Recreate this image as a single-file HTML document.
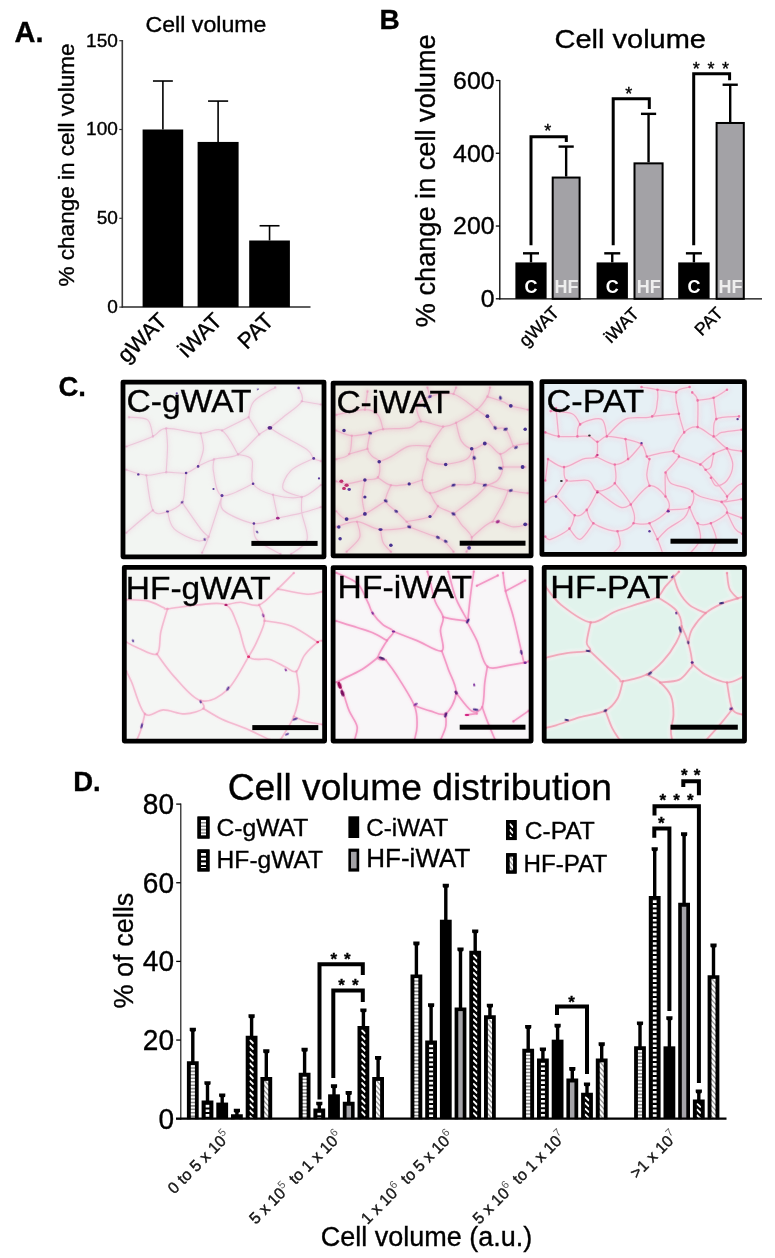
<!DOCTYPE html>
<html lang="en"><head><meta charset="utf-8"><title>Adipose cell volume figure</title>
<style>html,body{margin:0;padding:0;background:#fff}body{width:775px;height:1258px;overflow:hidden}svg{display:block}text{font-family:'Liberation Sans', sans-serif;stroke:#000;stroke-width:0.35px}text.w{stroke:none}</style>
</head><body>
<svg width="775" height="1258" viewBox="0 0 775 1258">
<rect width="775" height="1258" fill="#fff"/>
<g id="panelA">
<text x="14.6" y="41.6" font-size="29" font-weight="bold" >A.</text>
<text x="145.5" y="31.8" font-size="21.9" textLength="121" lengthAdjust="spacingAndGlyphs" >Cell volume</text>
<line x1="122.3" y1="40.1" x2="122.3" y2="307.70000000000005" stroke="#3c3c3c" stroke-width="1.6" stroke-linecap="butt"/>
<line x1="121.7" y1="307.1" x2="310.5" y2="307.1" stroke="#2a2a2a" stroke-width="1.5" stroke-linecap="butt"/>
<line x1="119.3" y1="307.1" x2="122.3" y2="307.1" stroke="#333" stroke-width="1.2" stroke-linecap="butt"/>
<text x="117.9" y="313.0" font-size="17.8" text-anchor="end" textLength="10.6" lengthAdjust="spacingAndGlyphs" >0</text>
<line x1="119.3" y1="218.3" x2="122.3" y2="218.3" stroke="#333" stroke-width="1.2" stroke-linecap="butt"/>
<text x="117.9" y="224.20000000000002" font-size="17.8" text-anchor="end" textLength="21.2" lengthAdjust="spacingAndGlyphs" >50</text>
<line x1="119.3" y1="129.5" x2="122.3" y2="129.5" stroke="#333" stroke-width="1.2" stroke-linecap="butt"/>
<text x="117.9" y="135.4" font-size="17.8" text-anchor="end" textLength="31.799999999999997" lengthAdjust="spacingAndGlyphs" >100</text>
<line x1="119.3" y1="40.69999999999999" x2="122.3" y2="40.69999999999999" stroke="#333" stroke-width="1.2" stroke-linecap="butt"/>
<text x="117.9" y="46.59999999999999" font-size="17.8" text-anchor="end" textLength="31.799999999999997" lengthAdjust="spacingAndGlyphs" >150</text>
<text x="74" y="286.5" font-size="22.5" textLength="243" lengthAdjust="spacingAndGlyphs" transform="rotate(-90 74 286.5)" >% change in cell volume</text>
<rect x="142.60" y="129.50" width="40.60" height="177.60" fill="#000" />
<line x1="162.89999999999998" y1="81.0152" x2="162.89999999999998" y2="129.5" stroke="#000" stroke-width="1.6" stroke-linecap="butt"/>
<line x1="152.95299999999997" y1="81.0152" x2="172.84699999999998" y2="81.0152" stroke="#000" stroke-width="1.6" stroke-linecap="butt"/>
<rect x="197.60" y="141.93" width="41.00" height="165.17" fill="#000" />
<line x1="218.1" y1="101.084" x2="218.1" y2="141.932" stroke="#000" stroke-width="1.6" stroke-linecap="butt"/>
<line x1="208.055" y1="101.084" x2="228.14499999999998" y2="101.084" stroke="#000" stroke-width="1.6" stroke-linecap="butt"/>
<rect x="249.20" y="240.50" width="40.70" height="66.60" fill="#000" />
<line x1="269.54999999999995" y1="225.75920000000002" x2="269.54999999999995" y2="240.5" stroke="#000" stroke-width="1.6" stroke-linecap="butt"/>
<line x1="259.57849999999996" y1="225.75920000000002" x2="279.52149999999995" y2="225.75920000000002" stroke="#000" stroke-width="1.6" stroke-linecap="butt"/>
<text x="168.5" y="322" font-size="22.3" text-anchor="end" transform="rotate(-45 168.5 322)" >gWAT</text>
<text x="223.5" y="322" font-size="22.3" text-anchor="end" transform="rotate(-45 223.5 322)" >iWAT</text>
<text x="275" y="322" font-size="22.3" text-anchor="end" transform="rotate(-45 275 322)" >PAT</text>
</g>
<g id="panelB">
<text x="379.6" y="28.9" font-size="28" font-weight="bold" >B</text>
<text x="554.5" y="48.1" font-size="25.9" textLength="151.5" lengthAdjust="spacingAndGlyphs" >Cell volume</text>
<line x1="499.8" y1="79.9" x2="499.8" y2="299.40000000000003" stroke="#000" stroke-width="1.3" stroke-linecap="butt"/>
<line x1="499.2" y1="298.8" x2="762" y2="298.8" stroke="#000" stroke-width="1.3" stroke-linecap="butt"/>
<line x1="495.8" y1="298.8" x2="499.8" y2="298.8" stroke="#000" stroke-width="1.3" stroke-linecap="butt"/>
<text x="494.5" y="307.2" font-size="23.3" text-anchor="end" textLength="13.8" lengthAdjust="spacingAndGlyphs" >0</text>
<line x1="495.8" y1="226.03333333333336" x2="499.8" y2="226.03333333333336" stroke="#000" stroke-width="1.3" stroke-linecap="butt"/>
<text x="494.5" y="234.43333333333337" font-size="23.3" text-anchor="end" textLength="41.400000000000006" lengthAdjust="spacingAndGlyphs" >200</text>
<line x1="495.8" y1="153.26666666666668" x2="499.8" y2="153.26666666666668" stroke="#000" stroke-width="1.3" stroke-linecap="butt"/>
<text x="494.5" y="161.66666666666669" font-size="23.3" text-anchor="end" textLength="41.400000000000006" lengthAdjust="spacingAndGlyphs" >400</text>
<line x1="495.8" y1="80.5" x2="499.8" y2="80.5" stroke="#000" stroke-width="1.3" stroke-linecap="butt"/>
<text x="494.5" y="88.9" font-size="23.3" text-anchor="end" textLength="41.400000000000006" lengthAdjust="spacingAndGlyphs" >600</text>
<text x="435.5" y="327.2" font-size="27.2" textLength="292.8" lengthAdjust="spacingAndGlyphs" transform="rotate(-90 435.5 327.2)" >% change in cell volume</text>
<rect x="515.40" y="262.42" width="31.20" height="36.38" fill="#000" />
<line x1="531.0" y1="253.32083333333335" x2="531.0" y2="262.4166666666667" stroke="#000" stroke-width="2.4" stroke-linecap="butt"/>
<line x1="523.0" y1="253.32083333333335" x2="539.0" y2="253.32083333333335" stroke="#000" stroke-width="2.4" stroke-linecap="butt"/>
<rect x="552.70" y="177.55" width="26.90" height="121.25" fill="#a3a2a6" stroke="#000" stroke-width="2" />
<line x1="566.1500000000001" y1="146.59" x2="566.1500000000001" y2="176.55200000000002" stroke="#000" stroke-width="2.4" stroke-linecap="butt"/>
<line x1="558.5500000000001" y1="146.59" x2="573.7500000000001" y2="146.59" stroke="#000" stroke-width="2.4" stroke-linecap="butt"/>
<text x="531.0" y="293.4" font-size="18" font-weight="bold" fill="#fff" text-anchor="middle" class="w">C</text>
<text x="566.45" y="293.4" font-size="18" font-weight="bold" fill="#eee" text-anchor="middle" class="w">HF</text>
<rect x="596.60" y="262.42" width="31.30" height="36.38" fill="#000" />
<line x1="612.25" y1="253.32083333333335" x2="612.25" y2="262.4166666666667" stroke="#000" stroke-width="2.4" stroke-linecap="butt"/>
<line x1="604.25" y1="253.32083333333335" x2="620.25" y2="253.32083333333335" stroke="#000" stroke-width="2.4" stroke-linecap="butt"/>
<rect x="634.50" y="163.36" width="28.10" height="135.44" fill="#a3a2a6" stroke="#000" stroke-width="2" />
<line x1="648.55" y1="113.845" x2="648.55" y2="162.3625" stroke="#000" stroke-width="2.4" stroke-linecap="butt"/>
<line x1="640.9499999999999" y1="113.845" x2="656.15" y2="113.845" stroke="#000" stroke-width="2.4" stroke-linecap="butt"/>
<text x="612.25" y="293.4" font-size="18" font-weight="bold" fill="#fff" text-anchor="middle" class="w">C</text>
<text x="648.8499999999999" y="293.4" font-size="18" font-weight="bold" fill="#eee" text-anchor="middle" class="w">HF</text>
<rect x="678.20" y="262.42" width="31.40" height="36.38" fill="#000" />
<line x1="693.9000000000001" y1="253.32083333333335" x2="693.9000000000001" y2="262.4166666666667" stroke="#000" stroke-width="2.4" stroke-linecap="butt"/>
<line x1="685.9000000000001" y1="253.32083333333335" x2="701.9000000000001" y2="253.32083333333335" stroke="#000" stroke-width="2.4" stroke-linecap="butt"/>
<rect x="716.60" y="122.98" width="27.20" height="175.82" fill="#a3a2a6" stroke="#000" stroke-width="2" />
<line x1="730.2" y1="84.73833333333334" x2="730.2" y2="121.977" stroke="#000" stroke-width="2.4" stroke-linecap="butt"/>
<line x1="722.6" y1="84.73833333333334" x2="737.8000000000001" y2="84.73833333333334" stroke="#000" stroke-width="2.4" stroke-linecap="butt"/>
<text x="693.9000000000001" y="293.4" font-size="18" font-weight="bold" fill="#fff" text-anchor="middle" class="w">C</text>
<text x="730.5" y="293.4" font-size="18" font-weight="bold" fill="#eee" text-anchor="middle" class="w">HF</text>
<path d="M531 245.2V136.70000000000002H566.3V142" fill="none" stroke="#000" stroke-width="3.0" />
<path d="M613.2 245.2V98.7H649.3V109" fill="none" stroke="#000" stroke-width="3.0" />
<path d="M693.7 245.2V73.7H729.6V80.3" fill="none" stroke="#000" stroke-width="3.0" />
<text x="547.7" y="137" font-size="18" text-anchor="middle" >*</text>
<text x="628.7" y="100" font-size="18" text-anchor="middle" >*</text>
<text x="696.3" y="75" font-size="18" text-anchor="middle" >*</text>
<text x="711" y="75" font-size="18" text-anchor="middle" >*</text>
<text x="725.5" y="75" font-size="18" text-anchor="middle" >*</text>
<text x="560.3" y="313.7" font-size="18" text-anchor="end" transform="rotate(-45 560.3 313.7)" >gWAT</text>
<text x="640" y="315" font-size="17.6" text-anchor="end" transform="rotate(-45 640 315)" >iWAT</text>
<text x="724" y="314.5" font-size="17.6" text-anchor="end" transform="rotate(-45 724 314.5)" >PAT</text>
</g>
<g id="panelC">
<text x="58.5" y="396.4" font-size="27.5" font-weight="bold" >C.</text>
<defs>
<filter id="soft" filterUnits="userSpaceOnUse" x="100" y="360" width="670" height="400"><feGaussianBlur stdDeviation="0.5"/></filter>
<filter id="soft4" filterUnits="userSpaceOnUse" x="100" y="360" width="670" height="400"><feGaussianBlur stdDeviation="2.2"/></filter>
<filter id="soft3" filterUnits="userSpaceOnUse" x="100" y="360" width="670" height="400"><feGaussianBlur stdDeviation="1.0"/></filter>
<filter id="soft2" x="-50%" y="-50%" width="200%" height="200%"><feGaussianBlur stdDeviation="0.5"/></filter>
<clipPath id="clip_p1"><rect x="124.9" y="384.0" width="197.2" height="170.9"/></clipPath>
<clipPath id="clip_p2"><rect x="335.0" y="385.0" width="194.2" height="168.9"/></clipPath>
<clipPath id="clip_p3"><rect x="543.8" y="383.5" width="198.8" height="169.0"/></clipPath>
<clipPath id="clip_p4"><rect x="126.2" y="569.2" width="196.5" height="170.0"/></clipPath>
<clipPath id="clip_p5"><rect x="335.0" y="569.5" width="194.2" height="169.7"/></clipPath>
<clipPath id="clip_p6"><rect x="546.1" y="569.2" width="196.5" height="170.0"/></clipPath>
</defs>
<g id="p1">
<rect x="123.0" y="382.1" width="201.0" height="174.7" fill="#f2f5f2"/>
<g clip-path="url(#clip_p1)">
<g fill="none" stroke="#e8a0c6" stroke-linecap="round" stroke-linejoin="round">
<defs><path id="m_p1_0" d="M126.3 469.8C129.6 470.7 139.7 474.8 146.3 475.2C153.0 475.6 159.6 472.6 166.2 472.2C172.8 471.8 180.8 474.0 186.1 473C191.4 472.0 193.4 468.7 198.1 466.4C202.8 464.1 207.3 461.2 214 459.2C220.7 457.2 230.5 458.5 238 454.4C245.5 450.3 253.9 438.9 259.2 434.5C264.5 430.1 265.9 430.7 269.9 427.8C273.9 424.9 277.8 421.6 283.1 417.2C288.4 412.8 299.2 406.3 301.8 401.3C304.4 396.3 299.1 389.7 298.6 387.4M269.9 427.8C271.9 429.1 275.6 431.7 281.8 435.3C288.0 438.9 301.8 445.8 307.1 449.6C312.4 453.5 311.4 456.5 313.7 458.4C316.0 460.3 319.7 460.7 320.9 461.1M238 454.4C240.3 455.3 249.3 454.8 251.8 459.7C254.3 464.6 249.6 477.8 253.1 483.7C256.6 489.6 264.9 492.6 273 494.8C281.1 497.0 293.8 498.6 301.8 497C309.8 495.4 317.7 487.0 320.9 485M253.1 483.7C247.9 485.7 228.6 497.6 222 495.6C215.4 493.6 214.8 477.8 213.5 471.7C212.2 465.6 213.9 461.3 214 459.2M222 495.6C222.2 498.0 218.0 505.6 223.3 510.2C228.6 514.9 244.8 522.2 253.9 523.5C263.0 524.8 269.8 520.0 277.8 518.2C285.8 516.4 294.6 514.8 301.8 512.9C309.0 511.0 317.7 508.1 320.9 507.1M222 495.6C219.8 502.5 212.0 527.3 208.7 536.8C205.4 546.3 203.2 550.1 202.1 552.8M186.1 473C185.9 475.2 185.5 481.4 184.8 486.3C184.1 491.2 185.0 498.1 182.1 502.3C179.2 506.5 172.4 510.3 167.5 511.6C162.6 512.9 156.4 516.3 152.9 510.2C149.4 504.1 147.4 481.0 146.3 475.2M182.1 502.3C185.2 506.7 196.3 523.1 200.7 528.9C205.1 534.6 207.4 535.5 208.7 536.8M152.9 510.2C150.2 512.4 141.3 519.7 136.9 523.5C132.5 527.3 128.1 531.2 126.3 532.8M167.5 511.6C168.6 514.5 169.1 524.0 174.2 528.9C179.3 533.8 192.3 539.5 198.1 540.8C203.8 542.1 206.9 537.5 208.7 536.8M126.3 446.5C130.7 444.8 146.2 439.4 152.9 436.4C159.6 433.4 158.2 428.9 166.2 428.4C174.2 427.9 191.4 432.8 200.7 433.2C210.0 433.6 215.8 427.0 222 430.5C228.2 434.0 235.3 450.4 238 454.4M152.9 436.4C152.0 433.6 151.6 423.1 147.6 419.9C143.6 416.7 132.1 417.6 129 417.2M248.6 417.2L259.2 434.5M248.6 417.2C249.5 414.6 249.5 406.3 253.9 401.3C258.3 396.3 271.6 389.7 275.2 387.4M248.6 417.2L222 430.5M301.8 401.3L320.9 404.5M273 494.8L277.8 518.2M301.8 497C301.8 499.6 300.9 505.8 301.8 512.9C302.7 520.0 308.9 532.6 307.1 539.5C305.3 546.4 293.8 551.7 291.1 554.1M253.9 523.5C254.4 526.2 252.2 534.4 256.6 539.5C261.0 544.6 276.5 551.7 280.5 554.1M313.7 458.4C309.9 460.4 296.2 465.3 291.1 470.4C286.0 475.5 281.3 484.6 283.1 489C284.9 493.4 298.7 495.7 301.8 497M166.2 428.4C166.4 431.4 167.5 439.2 167.5 446.5C167.5 453.8 166.4 467.9 166.2 472.2M200.7 433.2C201.1 435.9 203.8 443.6 203.4 449.1C203.0 454.6 199.0 463.5 198.1 466.4"/></defs>
<use href="#m_p1_0" stroke-width="7" opacity="0.08" filter="url(#soft4)"/>
<use href="#m_p1_0" stroke-width="2.42" opacity="0.13" filter="url(#soft3)"/>
<use href="#m_p1_0" stroke-width="1.15" opacity="0.45" filter="url(#soft)"/>
</g>
<path d="M125.0 469.8a1.3 1.3 0 1 0 2.6 0a1.3 1.3 0 1 0 -2.6 0M297.3 387.4a1.3 1.3 0 1 0 2.6 0a1.3 1.3 0 1 0 -2.6 0M268.6 427.8a1.3 1.3 0 1 0 2.6 0a1.3 1.3 0 1 0 -2.6 0M319.6 461.1a1.3 1.3 0 1 0 2.6 0a1.3 1.3 0 1 0 -2.6 0M236.7 454.4a1.3 1.3 0 1 0 2.6 0a1.3 1.3 0 1 0 -2.6 0M319.6 485.0a1.3 1.3 0 1 0 2.6 0a1.3 1.3 0 1 0 -2.6 0M251.8 483.7a1.3 1.3 0 1 0 2.6 0a1.3 1.3 0 1 0 -2.6 0M212.7 459.2a1.3 1.3 0 1 0 2.6 0a1.3 1.3 0 1 0 -2.6 0M220.7 495.6a1.3 1.3 0 1 0 2.6 0a1.3 1.3 0 1 0 -2.6 0M319.6 507.1a1.3 1.3 0 1 0 2.6 0a1.3 1.3 0 1 0 -2.6 0M200.8 552.8a1.3 1.3 0 1 0 2.6 0a1.3 1.3 0 1 0 -2.6 0M184.8 473.0a1.3 1.3 0 1 0 2.6 0a1.3 1.3 0 1 0 -2.6 0M145.0 475.2a1.3 1.3 0 1 0 2.6 0a1.3 1.3 0 1 0 -2.6 0M180.8 502.3a1.3 1.3 0 1 0 2.6 0a1.3 1.3 0 1 0 -2.6 0M207.4 536.8a1.3 1.3 0 1 0 2.6 0a1.3 1.3 0 1 0 -2.6 0M151.6 510.2a1.3 1.3 0 1 0 2.6 0a1.3 1.3 0 1 0 -2.6 0M125.0 532.8a1.3 1.3 0 1 0 2.6 0a1.3 1.3 0 1 0 -2.6 0M166.2 511.6a1.3 1.3 0 1 0 2.6 0a1.3 1.3 0 1 0 -2.6 0M125.0 446.5a1.3 1.3 0 1 0 2.6 0a1.3 1.3 0 1 0 -2.6 0M151.6 436.4a1.3 1.3 0 1 0 2.6 0a1.3 1.3 0 1 0 -2.6 0M127.7 417.2a1.3 1.3 0 1 0 2.6 0a1.3 1.3 0 1 0 -2.6 0M247.3 417.2a1.3 1.3 0 1 0 2.6 0a1.3 1.3 0 1 0 -2.6 0M257.9 434.5a1.3 1.3 0 1 0 2.6 0a1.3 1.3 0 1 0 -2.6 0M273.9 387.4a1.3 1.3 0 1 0 2.6 0a1.3 1.3 0 1 0 -2.6 0M220.7 430.5a1.3 1.3 0 1 0 2.6 0a1.3 1.3 0 1 0 -2.6 0M300.5 401.3a1.3 1.3 0 1 0 2.6 0a1.3 1.3 0 1 0 -2.6 0M319.6 404.5a1.3 1.3 0 1 0 2.6 0a1.3 1.3 0 1 0 -2.6 0M271.7 494.8a1.3 1.3 0 1 0 2.6 0a1.3 1.3 0 1 0 -2.6 0M276.5 518.2a1.3 1.3 0 1 0 2.6 0a1.3 1.3 0 1 0 -2.6 0M300.5 497.0a1.3 1.3 0 1 0 2.6 0a1.3 1.3 0 1 0 -2.6 0M289.8 554.1a1.3 1.3 0 1 0 2.6 0a1.3 1.3 0 1 0 -2.6 0M252.6 523.5a1.3 1.3 0 1 0 2.6 0a1.3 1.3 0 1 0 -2.6 0M279.2 554.1a1.3 1.3 0 1 0 2.6 0a1.3 1.3 0 1 0 -2.6 0M312.4 458.4a1.3 1.3 0 1 0 2.6 0a1.3 1.3 0 1 0 -2.6 0M164.9 428.4a1.3 1.3 0 1 0 2.6 0a1.3 1.3 0 1 0 -2.6 0M164.9 472.2a1.3 1.3 0 1 0 2.6 0a1.3 1.3 0 1 0 -2.6 0M199.4 433.2a1.3 1.3 0 1 0 2.6 0a1.3 1.3 0 1 0 -2.6 0M196.8 466.4a1.3 1.3 0 1 0 2.6 0a1.3 1.3 0 1 0 -2.6 0" fill="#e090c0" opacity="0.35" filter="url(#soft)"/>
<ellipse cx="269.9" cy="427.8" rx="2.4" ry="1.9" transform="rotate(0 269.9 427.8)" fill="#5a2a8a" filter="url(#soft2)"/>
<ellipse cx="198.1" cy="466.4" rx="1.3" ry="1.3" transform="rotate(0 198.1 466.4)" fill="#5b3a9b" filter="url(#soft2)"/>
<ellipse cx="186.1" cy="473.0" rx="1.3" ry="1.3" transform="rotate(0 186.1 473.0)" fill="#5b3a9b" filter="url(#soft2)"/>
<ellipse cx="253.1" cy="483.7" rx="1.3" ry="1.3" transform="rotate(0 253.1 483.7)" fill="#5b3a9b" filter="url(#soft2)"/>
<ellipse cx="222.0" cy="495.6" rx="1.5" ry="1.5" transform="rotate(0 222.0 495.6)" fill="#5b3a9b" filter="url(#soft2)"/>
<ellipse cx="182.1" cy="502.3" rx="1.5" ry="1.1" transform="rotate(-40 182.1 502.3)" fill="#5b3a9b" filter="url(#soft2)"/>
<ellipse cx="167.5" cy="511.6" rx="1.6" ry="1.0" transform="rotate(10 167.5 511.6)" fill="#5b3a9b" filter="url(#soft2)"/>
<ellipse cx="277.8" cy="518.2" rx="1.8" ry="1.4" transform="rotate(0 277.8 518.2)" fill="#a02a8a" filter="url(#soft2)"/>
<ellipse cx="313.7" cy="458.4" rx="1.4" ry="1.4" transform="rotate(0 313.7 458.4)" fill="#5b3a9b" filter="url(#soft2)"/>
<ellipse cx="204.7" cy="539.5" rx="1.5" ry="1.0" transform="rotate(60 204.7 539.5)" fill="#5b3a9b" filter="url(#soft2)"/>
<ellipse cx="253.9" cy="523.5" rx="1.3" ry="1.3" transform="rotate(0 253.9 523.5)" fill="#5b3a9b" filter="url(#soft2)"/>
<ellipse cx="257.1" cy="532.0" rx="1.5" ry="1.0" transform="rotate(50 257.1 532.0)" fill="#5b3a9b" filter="url(#soft2)"/>
<ellipse cx="138.3" cy="474.4" rx="1.2" ry="1.2" transform="rotate(0 138.3 474.4)" fill="#5b3a9b" filter="url(#soft2)"/>
<ellipse cx="176.8" cy="393.3" rx="1.1" ry="1.1" transform="rotate(0 176.8 393.3)" fill="#5b3a9b" filter="url(#soft2)"/>
<ellipse cx="298.6" cy="388.0" rx="1.2" ry="1.2" transform="rotate(0 298.6 388.0)" fill="#5b3a9b" filter="url(#soft2)"/>
<ellipse cx="213.5" cy="489.0" rx="1.1" ry="1.1" transform="rotate(0 213.5 489.0)" fill="#5b3a9b" filter="url(#soft2)"/>
<ellipse cx="319.0" cy="478.4" rx="1.1" ry="1.1" transform="rotate(0 319.0 478.4)" fill="#5b3a9b" filter="url(#soft2)"/>
<ellipse cx="257.9" cy="389.3" rx="1.2" ry="0.8" transform="rotate(-40 257.9 389.3)" fill="#5b3a9b" filter="url(#soft2)"/>
</g>
<rect x="123.00" y="382.10" width="201.00" height="174.70" fill="none" stroke="#000" stroke-width="4.8" stroke-linejoin="round"/>
<rect x="251.4" y="540.9" width="66.2" height="5" fill="#000"/>
<text x="126.6" y="412.3" font-size="32" textLength="125" lengthAdjust="spacingAndGlyphs">C-gWAT</text>
</g>
<g id="p2">
<rect x="333.1" y="383.1" width="198.0" height="172.7" fill="#eeede4"/>
<g clip-path="url(#clip_p2)">
<g fill="none" stroke="#ee9cc0" stroke-linecap="round" stroke-linejoin="round">
<defs><path id="m_p2_0" d="M336.2 430.5C338.8 431.4 346.1 435.3 351.8 435.7C357.5 436.1 364.9 434.2 370.1 433.1C375.3 432.0 376.6 430.1 383.1 429.2C389.6 428.3 402.9 429.2 409.2 427.9C415.5 426.6 415.2 421.6 420.9 421.4C426.5 421.2 437.2 426.4 443.1 426.6C449.0 426.8 450.5 425.5 456.1 422.7C461.7 419.9 471.7 414.0 476.9 409.7C482.1 405.4 485.2 400.3 487.4 396.6C489.6 392.9 489.6 389.0 490 387.5M370.1 433.1C369.7 435.7 367.1 444.9 367.5 448.8C367.9 452.7 370.8 454.4 372.7 456.6C374.6 458.8 378.3 458.3 379.2 461.8C380.1 465.3 380.3 474.4 377.9 477.4C375.5 480.4 370.1 478.9 364.9 480C359.7 481.1 351.4 483.7 346.6 483.9C341.8 484.1 337.9 481.7 336.2 481.3M443.1 426.6C440.9 429.9 432.6 440.8 430 446.2C427.4 451.6 425.2 456.2 427.4 459.2C429.6 462.2 436.6 464.4 443.1 464.4C449.6 464.4 461.5 461.8 466.5 459.2C471.5 456.6 471.9 448.8 473 448.8C474.1 448.8 473.0 457.5 473 459.2M456.1 422.7C457.0 425.7 458.5 436.5 461.3 440.9C464.1 445.2 468.6 448.4 473 448.8C477.4 449.2 482.8 442.6 487.4 443.5C492.0 444.4 496.1 453.6 500.4 454C504.7 454.4 508.8 447.9 513.4 446.2C518.0 444.4 525.4 443.9 527.8 443.5M473 459.2C473.2 463.1 477.6 478.3 474.3 482.6C471.1 486.9 460.9 483.4 453.5 485.2C446.1 486.9 435.2 494.0 430 493.1C424.8 492.2 422.6 485.6 422.2 480C421.8 474.4 426.5 462.7 427.4 459.2M474.3 482.6C476.5 483.0 481.8 483.9 487.4 485.2C493.0 486.5 501.5 489.2 508.2 490.5C514.9 491.8 524.5 492.7 527.8 493.1M430 493.1C431.3 495.3 434.0 502.6 437.9 506.1C441.8 509.6 449.6 510.9 453.5 513.9C457.4 516.9 458.3 520.4 461.3 524.3C464.3 528.2 470.8 532.8 471.7 537.4C472.6 542.0 467.4 549.3 466.5 551.7M453.5 513.9C457.4 510.9 471.2 500.5 476.9 495.7C482.5 490.9 485.6 486.9 487.4 485.2M379.2 461.8C381.1 460.9 385.9 459.2 390.9 456.6C395.9 454.0 402.7 447.9 409.2 446.2C415.7 444.5 426.5 446.2 430 446.2M377.9 477.4C380.1 478.7 385.7 484.1 390.9 485.2C396.1 486.3 404.0 484.8 409.2 483.9C414.4 483.0 420.0 480.6 422.2 480M390.9 485.2C390.0 487.8 384.8 496.5 385.7 500.9C386.6 505.2 392.7 507.8 396.2 511.3C399.7 514.8 404.4 519.1 406.6 521.7C408.8 524.3 413.6 525.6 409.2 526.9C404.8 528.2 389.2 530.5 380.5 529.6C371.8 528.7 364.5 522.2 357.1 521.7C349.7 521.2 339.7 526.0 336.2 526.9M385.7 500.9C382.2 503.1 371.4 510.9 364.9 513.9C358.4 516.9 351.4 519.5 346.6 519.1C341.8 518.7 337.9 512.6 336.2 511.3M364.9 480C364.5 483.1 362.3 492.7 362.3 498.3C362.3 503.9 364.5 511.3 364.9 513.9M409.2 526.9C412.7 528.2 425.2 533.0 430 534.8C434.8 536.5 435.3 536.1 437.9 537.4C440.5 538.7 443.1 540.2 445.7 542.6C448.3 545.0 452.2 550.2 453.5 551.7M471.7 537.4C475.2 534.8 485.7 523.5 492.6 521.7C499.6 520.0 507.5 526.5 513.4 526.9C519.3 527.3 525.4 524.7 527.8 524.3M492.6 521.7C494.3 518.7 500.4 508.7 503 503.5C505.6 498.3 507.3 492.7 508.2 490.5M406.6 521.7C410.5 520.8 424.8 519.1 430 516.5C435.2 513.9 436.6 507.8 437.9 506.1M487.4 396.6C490.0 397.5 499.1 400.3 503 401.8C506.9 403.3 506.7 404.5 510.8 405.8C514.9 407.1 525.0 409.1 527.8 409.7M476.9 409.7C478.6 411.0 484.3 414.5 487.4 417.5C490.4 420.5 492.2 425.9 495.2 427.9C498.2 429.8 502.6 426.1 505.6 429.2C508.6 432.2 512.1 443.4 513.4 446.2M500.4 454C500.8 456.2 503.4 462.7 503 467C502.6 471.3 500.4 477.0 497.8 480C495.2 483.0 489.1 484.3 487.4 485.2M503 467L525.2 467M357.1 521.7C357.5 524.3 361.4 532.4 359.7 537.4C357.9 542.4 348.8 549.3 346.6 551.7M380.5 529.6C380.9 531.8 381.4 538.9 383.1 542.6C384.8 546.3 389.6 550.2 390.9 551.7M351.8 435.7C351.4 438.8 351.8 450.1 349.2 454C346.6 457.9 338.4 458.3 336.2 459.2M349.2 454L367.5 448.8M420.9 421.4C420.2 419.0 415.5 411.2 417 407.1C418.5 403.0 423.9 398.8 430 396.6C436.1 394.4 445.7 391.8 453.5 394C461.3 396.2 473.0 407.1 476.9 409.7M383.1 429.2C382.2 426.8 380.9 418.1 377.9 414.9C374.9 411.6 371.8 409.7 364.9 409.7C357.9 409.7 341.0 414.0 336.2 414.9M453.5 394L456.1 387.5M364.9 409.7L367.5 391.4M430 396.6L427.4 387.5"/></defs>
<use href="#m_p2_0" stroke-width="7" opacity="0.16" filter="url(#soft4)"/>
<use href="#m_p2_0" stroke-width="2.52" opacity="0.15" filter="url(#soft3)"/>
<use href="#m_p2_0" stroke-width="1.20" opacity="0.55" filter="url(#soft)"/>
</g>
<path d="M334.9 430.5a1.3 1.3 0 1 0 2.6 0a1.3 1.3 0 1 0 -2.6 0M488.7 387.5a1.3 1.3 0 1 0 2.6 0a1.3 1.3 0 1 0 -2.6 0M368.8 433.1a1.3 1.3 0 1 0 2.6 0a1.3 1.3 0 1 0 -2.6 0M334.9 481.3a1.3 1.3 0 1 0 2.6 0a1.3 1.3 0 1 0 -2.6 0M441.8 426.6a1.3 1.3 0 1 0 2.6 0a1.3 1.3 0 1 0 -2.6 0M471.7 459.2a1.3 1.3 0 1 0 2.6 0a1.3 1.3 0 1 0 -2.6 0M454.8 422.7a1.3 1.3 0 1 0 2.6 0a1.3 1.3 0 1 0 -2.6 0M526.5 443.5a1.3 1.3 0 1 0 2.6 0a1.3 1.3 0 1 0 -2.6 0M426.1 459.2a1.3 1.3 0 1 0 2.6 0a1.3 1.3 0 1 0 -2.6 0M473.0 482.6a1.3 1.3 0 1 0 2.6 0a1.3 1.3 0 1 0 -2.6 0M526.5 493.1a1.3 1.3 0 1 0 2.6 0a1.3 1.3 0 1 0 -2.6 0M428.7 493.1a1.3 1.3 0 1 0 2.6 0a1.3 1.3 0 1 0 -2.6 0M465.2 551.7a1.3 1.3 0 1 0 2.6 0a1.3 1.3 0 1 0 -2.6 0M452.2 513.9a1.3 1.3 0 1 0 2.6 0a1.3 1.3 0 1 0 -2.6 0M486.1 485.2a1.3 1.3 0 1 0 2.6 0a1.3 1.3 0 1 0 -2.6 0M377.9 461.8a1.3 1.3 0 1 0 2.6 0a1.3 1.3 0 1 0 -2.6 0M428.7 446.2a1.3 1.3 0 1 0 2.6 0a1.3 1.3 0 1 0 -2.6 0M376.6 477.4a1.3 1.3 0 1 0 2.6 0a1.3 1.3 0 1 0 -2.6 0M420.9 480.0a1.3 1.3 0 1 0 2.6 0a1.3 1.3 0 1 0 -2.6 0M389.6 485.2a1.3 1.3 0 1 0 2.6 0a1.3 1.3 0 1 0 -2.6 0M334.9 526.9a1.3 1.3 0 1 0 2.6 0a1.3 1.3 0 1 0 -2.6 0M384.4 500.9a1.3 1.3 0 1 0 2.6 0a1.3 1.3 0 1 0 -2.6 0M334.9 511.3a1.3 1.3 0 1 0 2.6 0a1.3 1.3 0 1 0 -2.6 0M363.6 480.0a1.3 1.3 0 1 0 2.6 0a1.3 1.3 0 1 0 -2.6 0M363.6 513.9a1.3 1.3 0 1 0 2.6 0a1.3 1.3 0 1 0 -2.6 0M407.9 526.9a1.3 1.3 0 1 0 2.6 0a1.3 1.3 0 1 0 -2.6 0M452.2 551.7a1.3 1.3 0 1 0 2.6 0a1.3 1.3 0 1 0 -2.6 0M470.4 537.4a1.3 1.3 0 1 0 2.6 0a1.3 1.3 0 1 0 -2.6 0M526.5 524.3a1.3 1.3 0 1 0 2.6 0a1.3 1.3 0 1 0 -2.6 0M491.3 521.7a1.3 1.3 0 1 0 2.6 0a1.3 1.3 0 1 0 -2.6 0M506.9 490.5a1.3 1.3 0 1 0 2.6 0a1.3 1.3 0 1 0 -2.6 0M405.3 521.7a1.3 1.3 0 1 0 2.6 0a1.3 1.3 0 1 0 -2.6 0M436.6 506.1a1.3 1.3 0 1 0 2.6 0a1.3 1.3 0 1 0 -2.6 0M486.1 396.6a1.3 1.3 0 1 0 2.6 0a1.3 1.3 0 1 0 -2.6 0M526.5 409.7a1.3 1.3 0 1 0 2.6 0a1.3 1.3 0 1 0 -2.6 0M475.6 409.7a1.3 1.3 0 1 0 2.6 0a1.3 1.3 0 1 0 -2.6 0M512.1 446.2a1.3 1.3 0 1 0 2.6 0a1.3 1.3 0 1 0 -2.6 0M499.1 454.0a1.3 1.3 0 1 0 2.6 0a1.3 1.3 0 1 0 -2.6 0M501.7 467.0a1.3 1.3 0 1 0 2.6 0a1.3 1.3 0 1 0 -2.6 0M523.9 467.0a1.3 1.3 0 1 0 2.6 0a1.3 1.3 0 1 0 -2.6 0M355.8 521.7a1.3 1.3 0 1 0 2.6 0a1.3 1.3 0 1 0 -2.6 0M345.3 551.7a1.3 1.3 0 1 0 2.6 0a1.3 1.3 0 1 0 -2.6 0M379.2 529.6a1.3 1.3 0 1 0 2.6 0a1.3 1.3 0 1 0 -2.6 0M389.6 551.7a1.3 1.3 0 1 0 2.6 0a1.3 1.3 0 1 0 -2.6 0M350.5 435.7a1.3 1.3 0 1 0 2.6 0a1.3 1.3 0 1 0 -2.6 0M334.9 459.2a1.3 1.3 0 1 0 2.6 0a1.3 1.3 0 1 0 -2.6 0M347.9 454.0a1.3 1.3 0 1 0 2.6 0a1.3 1.3 0 1 0 -2.6 0M366.2 448.8a1.3 1.3 0 1 0 2.6 0a1.3 1.3 0 1 0 -2.6 0M419.6 421.4a1.3 1.3 0 1 0 2.6 0a1.3 1.3 0 1 0 -2.6 0M381.8 429.2a1.3 1.3 0 1 0 2.6 0a1.3 1.3 0 1 0 -2.6 0M334.9 414.9a1.3 1.3 0 1 0 2.6 0a1.3 1.3 0 1 0 -2.6 0M452.2 394.0a1.3 1.3 0 1 0 2.6 0a1.3 1.3 0 1 0 -2.6 0M454.8 387.5a1.3 1.3 0 1 0 2.6 0a1.3 1.3 0 1 0 -2.6 0M363.6 409.7a1.3 1.3 0 1 0 2.6 0a1.3 1.3 0 1 0 -2.6 0M366.2 391.4a1.3 1.3 0 1 0 2.6 0a1.3 1.3 0 1 0 -2.6 0M428.7 396.6a1.3 1.3 0 1 0 2.6 0a1.3 1.3 0 1 0 -2.6 0M426.1 387.5a1.3 1.3 0 1 0 2.6 0a1.3 1.3 0 1 0 -2.6 0" fill="#e888b4" opacity="0.4" filter="url(#soft)"/>
<ellipse cx="344.0" cy="430.5" rx="1.7550000000000001" ry="1.7550000000000001" transform="rotate(0 344.0 430.5)" fill="#46308f" filter="url(#soft2)"/>
<ellipse cx="370.1" cy="433.1" rx="2.0250000000000004" ry="1.35" transform="rotate(20 370.1 433.1)" fill="#46308f" filter="url(#soft2)"/>
<ellipse cx="379.2" cy="461.8" rx="1.7550000000000001" ry="1.7550000000000001" transform="rotate(0 379.2 461.8)" fill="#46308f" filter="url(#soft2)"/>
<ellipse cx="341.4" cy="481.3" rx="2.0250000000000004" ry="1.7550000000000001" transform="rotate(0 341.4 481.3)" fill="#c03070" filter="url(#soft2)"/>
<ellipse cx="346.6" cy="485.2" rx="2.16" ry="1.7550000000000001" transform="rotate(0 346.6 485.2)" fill="#c03070" filter="url(#soft2)"/>
<ellipse cx="344.0" cy="488.4" rx="1.89" ry="1.62" transform="rotate(0 344.0 488.4)" fill="#c03070" filter="url(#soft2)"/>
<ellipse cx="349.2" cy="489.4" rx="1.7550000000000001" ry="1.4850000000000003" transform="rotate(0 349.2 489.4)" fill="#5b3a9b" filter="url(#soft2)"/>
<ellipse cx="364.9" cy="480.0" rx="1.7550000000000001" ry="1.7550000000000001" transform="rotate(0 364.9 480.0)" fill="#46308f" filter="url(#soft2)"/>
<ellipse cx="385.7" cy="500.9" rx="2.0250000000000004" ry="1.35" transform="rotate(30 385.7 500.9)" fill="#46308f" filter="url(#soft2)"/>
<ellipse cx="396.2" cy="511.3" rx="2.0250000000000004" ry="1.35" transform="rotate(30 396.2 511.3)" fill="#46308f" filter="url(#soft2)"/>
<ellipse cx="364.9" cy="513.9" rx="1.89" ry="1.89" transform="rotate(0 364.9 513.9)" fill="#46308f" filter="url(#soft2)"/>
<ellipse cx="346.6" cy="519.1" rx="1.89" ry="1.89" transform="rotate(0 346.6 519.1)" fill="#46308f" filter="url(#soft2)"/>
<ellipse cx="338.8" cy="526.9" rx="1.7550000000000001" ry="1.7550000000000001" transform="rotate(0 338.8 526.9)" fill="#46308f" filter="url(#soft2)"/>
<ellipse cx="380.5" cy="529.6" rx="2.16" ry="1.35" transform="rotate(0 380.5 529.6)" fill="#46308f" filter="url(#soft2)"/>
<ellipse cx="409.2" cy="526.9" rx="2.0250000000000004" ry="1.35" transform="rotate(20 409.2 526.9)" fill="#46308f" filter="url(#soft2)"/>
<ellipse cx="437.9" cy="537.4" rx="2.0250000000000004" ry="1.35" transform="rotate(30 437.9 537.4)" fill="#46308f" filter="url(#soft2)"/>
<ellipse cx="445.7" cy="541.3" rx="2.0250000000000004" ry="1.35" transform="rotate(30 445.7 541.3)" fill="#46308f" filter="url(#soft2)"/>
<ellipse cx="430.0" cy="516.5" rx="1.62" ry="1.62" transform="rotate(0 430.0 516.5)" fill="#46308f" filter="url(#soft2)"/>
<ellipse cx="453.5" cy="513.9" rx="2.16" ry="1.4850000000000003" transform="rotate(30 453.5 513.9)" fill="#46308f" filter="url(#soft2)"/>
<ellipse cx="453.5" cy="485.2" rx="2.0250000000000004" ry="1.35" transform="rotate(-20 453.5 485.2)" fill="#46308f" filter="url(#soft2)"/>
<ellipse cx="474.3" cy="457.9" rx="2.0250000000000004" ry="1.4850000000000003" transform="rotate(70 474.3 457.9)" fill="#46308f" filter="url(#soft2)"/>
<ellipse cx="471.7" cy="448.8" rx="1.7550000000000001" ry="1.7550000000000001" transform="rotate(0 471.7 448.8)" fill="#46308f" filter="url(#soft2)"/>
<ellipse cx="484.8" cy="443.5" rx="1.89" ry="1.89" transform="rotate(0 484.8 443.5)" fill="#46308f" filter="url(#soft2)"/>
<ellipse cx="487.4" cy="416.2" rx="1.89" ry="1.89" transform="rotate(0 487.4 416.2)" fill="#46308f" filter="url(#soft2)"/>
<ellipse cx="495.2" cy="427.9" rx="2.0250000000000004" ry="1.4850000000000003" transform="rotate(60 495.2 427.9)" fill="#46308f" filter="url(#soft2)"/>
<ellipse cx="505.6" cy="429.2" rx="2.16" ry="1.4850000000000003" transform="rotate(-20 505.6 429.2)" fill="#46308f" filter="url(#soft2)"/>
<ellipse cx="500.4" cy="397.9" rx="2.0250000000000004" ry="1.35" transform="rotate(80 500.4 397.9)" fill="#46308f" filter="url(#soft2)"/>
<ellipse cx="510.8" cy="405.8" rx="1.89" ry="1.89" transform="rotate(0 510.8 405.8)" fill="#46308f" filter="url(#soft2)"/>
<ellipse cx="516.0" cy="447.5" rx="1.89" ry="1.35" transform="rotate(-30 516.0 447.5)" fill="#46308f" filter="url(#soft2)"/>
<ellipse cx="500.4" cy="468.3" rx="2.16" ry="1.4850000000000003" transform="rotate(20 500.4 468.3)" fill="#46308f" filter="url(#soft2)"/>
<ellipse cx="522.6" cy="467.0" rx="1.89" ry="1.89" transform="rotate(0 522.6 467.0)" fill="#46308f" filter="url(#soft2)"/>
<ellipse cx="484.8" cy="485.2" rx="2.0250000000000004" ry="1.35" transform="rotate(-20 484.8 485.2)" fill="#46308f" filter="url(#soft2)"/>
<ellipse cx="510.8" cy="490.5" rx="2.0250000000000004" ry="1.35" transform="rotate(-20 510.8 490.5)" fill="#46308f" filter="url(#soft2)"/>
<ellipse cx="497.8" cy="521.7" rx="2.16" ry="1.4850000000000003" transform="rotate(-30 497.8 521.7)" fill="#a02a8a" filter="url(#soft2)"/>
<ellipse cx="525.2" cy="524.3" rx="1.89" ry="1.89" transform="rotate(0 525.2 524.3)" fill="#46308f" filter="url(#soft2)"/>
<ellipse cx="469.1" cy="547.8" rx="1.89" ry="1.89" transform="rotate(0 469.1 547.8)" fill="#46308f" filter="url(#soft2)"/>
<ellipse cx="340.1" cy="538.7" rx="1.7550000000000001" ry="1.7550000000000001" transform="rotate(0 340.1 538.7)" fill="#46308f" filter="url(#soft2)"/>
<ellipse cx="390.9" cy="545.2" rx="1.7550000000000001" ry="1.7550000000000001" transform="rotate(0 390.9 545.2)" fill="#46308f" filter="url(#soft2)"/>
<ellipse cx="525.2" cy="429.2" rx="1.7550000000000001" ry="1.7550000000000001" transform="rotate(0 525.2 429.2)" fill="#46308f" filter="url(#soft2)"/>
<ellipse cx="430.0" cy="396.6" rx="1.89" ry="1.35" transform="rotate(-30 430.0 396.6)" fill="#46308f" filter="url(#soft2)"/>
<ellipse cx="445.7" cy="464.4" rx="1.7550000000000001" ry="1.7550000000000001" transform="rotate(0 445.7 464.4)" fill="#46308f" filter="url(#soft2)"/>
<ellipse cx="409.2" cy="483.9" rx="1.62" ry="1.62" transform="rotate(0 409.2 483.9)" fill="#46308f" filter="url(#soft2)"/>
<ellipse cx="364.9" cy="497.0" rx="1.62" ry="1.62" transform="rotate(0 364.9 497.0)" fill="#46308f" filter="url(#soft2)"/>
<ellipse cx="424.8" cy="405.8" rx="1.62" ry="1.62" transform="rotate(0 424.8 405.8)" fill="#46308f" filter="url(#soft2)"/>
</g>
<rect x="333.10" y="383.10" width="198.00" height="172.70" fill="none" stroke="#000" stroke-width="4.8" stroke-linejoin="round"/>
<rect x="459.7" y="540.7" width="65.8" height="5" fill="#000"/>
<text x="336.4" y="412.6" font-size="32" textLength="113.5" lengthAdjust="spacingAndGlyphs">C-iWAT</text>
</g>
<g id="p3">
<rect x="541.9" y="381.6" width="202.6" height="172.8" fill="#e6f0f5"/>
<g clip-path="url(#clip_p3)">
<g fill="none" stroke="#f284ae" stroke-linecap="round" stroke-linejoin="round">
<defs><path id="m_p3_0" d="M545.3 432.4C547.5 433.1 553.4 435.7 558.7 436.4C564.1 437.1 572.3 436.4 577.4 436.4C582.5 436.4 586.1 435.5 589.4 436.4C592.7 437.3 594.5 441.8 597.4 441.8C600.3 441.8 602.1 436.8 606.8 436.4C611.5 435.9 619.7 437.8 625.5 439.1C631.3 440.4 638.0 441.5 641.5 444.4C645.0 447.3 645.5 454.1 646.8 456.5C648.1 458.9 649.0 458.7 649.5 459.1M577.4 436.4C577.9 434.4 576.1 427.3 580.1 424.4C584.1 421.5 597.0 417.1 601.4 419.1C605.8 421.1 605.9 433.5 606.8 436.4M597.4 441.8C597.2 444.2 598.5 453.6 596.1 456.5C593.7 459.4 588.1 457.3 582.7 459.1C577.4 460.9 569.8 467.1 564 467.1C558.2 467.1 550.7 460.4 548 459.1M596.1 456.5C599.2 457.8 609.5 464.1 614.8 464.5C620.1 464.9 623.6 462.5 628.1 459.1C632.6 455.8 639.3 446.8 641.5 444.4M564 467.1C564.5 469.3 562.7 478.3 566.7 480.5C570.7 482.7 583.0 478.7 588.1 480.5C593.2 482.3 593.0 490.8 597.4 491.2C601.8 491.6 611.9 487.6 614.8 483.2C617.7 478.8 614.8 467.6 614.8 464.5M597.4 491.2C595.6 494.3 590.5 505.9 586.7 509.9C582.9 513.9 579.8 517.4 574.7 515.2C569.6 513.0 560.9 498.7 556 496.5C551.1 494.3 547.1 501.0 545.3 501.9M556 496.5L566.7 480.5M586.7 509.9C587.8 512.1 588.3 519.7 593.4 523.2C598.5 526.8 610.8 531.2 617.5 531.2C624.2 531.2 631.3 527.7 633.5 523.2C635.7 518.8 633.9 511.2 630.8 504.5C627.7 497.8 617.5 486.8 614.8 483.2M633.5 523.2C636.2 523.2 643.7 525.4 649.5 523.2C655.3 521.0 665.5 514.4 668.2 509.9C670.9 505.4 668.6 500.5 665.5 496.5C662.4 492.5 655.3 484.5 649.5 485.8C643.7 487.1 633.9 501.4 630.8 504.5M649.5 459.1C649.0 461.8 646.8 470.8 646.8 475.2C646.8 479.6 649.0 484.0 649.5 485.8M668.2 509.9C671.8 509.4 685.6 510.3 689.6 507.2C693.6 504.1 695.3 495.2 692.2 491.2C689.1 487.2 675.4 486.3 670.9 483.2C666.4 480.1 666.4 470.3 665.5 472.5C664.6 474.7 665.5 492.5 665.5 496.5M665.5 472.5C667.7 469.8 677.6 460.1 678.9 456.5C680.2 452.9 672.6 455.1 673.5 451.1C674.4 447.1 680.2 436.4 684.2 432.4C688.2 428.4 692.7 426.4 697.6 427.1C702.5 427.8 709.6 435.5 713.6 436.4C717.6 437.3 716.9 433.5 721.6 432.4C726.3 431.3 738.4 430.1 741.7 429.7M678.9 456.5C682.5 457.8 695.8 462.3 700.3 464.5C704.8 466.7 701.1 464.5 705.6 469.8C710.1 475.1 724.3 491.1 727 496.5C729.7 501.9 719.1 501.4 721.6 501.9C724.1 502.3 738.4 499.6 741.7 499.2M692.2 491.2C693.6 492.1 695.4 494.7 700.3 496.5C705.2 498.3 718.0 501.0 721.6 501.9M689.6 507.2C690.9 509.9 694.1 520.5 697.6 523.2C701.1 525.9 706.0 525.0 710.9 523.2C715.8 521.4 725.2 516.0 727 512.5C728.8 508.9 722.5 503.7 721.6 501.9M684.2 432.4C683.3 429.3 680.2 420.4 678.9 413.7C677.6 407.0 674.4 396.8 676.2 392.4C678.0 387.9 687.4 387.9 689.6 387M676.2 392.4C673.1 391.9 663.3 390.6 657.5 389.7C651.7 388.8 644.2 387.4 641.5 387M697.6 427.1C697.6 422.7 698.5 406.2 697.6 400.4C696.7 394.6 693.1 393.7 692.2 392.4M713.6 436.4C714.0 433.5 712.1 422.4 716.3 419.1C720.5 415.8 735.2 416.8 739 416.4M713.6 436.4C715.8 438.4 722.3 445.9 727 448.4C731.7 450.8 739.2 450.7 741.7 451.1M700.3 464.5C702.5 462.7 709.1 456.5 713.6 453.8C718.1 451.1 724.8 449.3 727 448.4M617.5 531.2C617.9 533.4 621.0 540.8 620.1 544.6C619.2 548.4 613.4 552.4 612.1 553.9M649.5 523.2C650.8 525.9 655.3 534.2 657.5 539.3C659.7 544.4 662.0 551.5 662.9 553.9M574.7 515.2C573.8 517.4 573.4 524.6 569.4 528.6C565.4 532.6 554.7 538.0 550.7 539.3C546.7 540.6 546.2 537.0 545.3 536.6M593.4 523.2C591.2 525.9 584.1 538.4 580.1 539.3C576.1 540.2 571.2 530.4 569.4 528.6M606.8 436.4C609.9 433.5 617.9 422.4 625.5 419.1C633.1 415.8 646.9 419.5 652.2 416.4C657.5 413.3 656.6 404.8 657.5 400.4C658.4 395.9 657.5 391.5 657.5 389.7M646.8 456.5C648.6 456.1 653.0 454.7 657.5 453.8C662.0 452.9 670.8 451.6 673.5 451.1M652.2 416.4L678.9 413.7M580.1 424.4C578.8 422.6 577.0 415.9 572.1 413.7C567.2 411.5 554.3 411.5 550.7 411.1M697.6 523.2C698.0 525.9 701.6 534.2 700.3 539.3C699.0 544.4 691.4 551.5 689.6 553.9M727 512.5L741.7 517.9M713.6 453.8C713.1 456.0 712.2 464.4 710.9 467.1C709.6 469.8 706.5 469.4 705.6 469.8M727 448.4C728.0 451.1 732.8 459.1 732.8 464.5C732.8 469.9 729.8 476.9 727 480.5C724.2 484.1 719.0 486.2 716.3 485.8C713.6 485.4 711.8 479.1 710.9 477.8M727 496.5C728.8 494.7 735.0 487.9 737.6 485.8C740.2 483.7 741.7 484.1 742.5 483.7M697.6 400.4C700.3 399.9 708.7 399.5 713.6 397.7C718.5 395.9 724.8 391.0 727 389.7M716.3 419.1L713.6 397.7M689.6 507.2C688.7 509.0 687.8 514.3 684.2 517.9C680.6 521.5 672.7 525.0 668.2 528.6C663.8 532.2 659.3 537.5 657.5 539.3M710.9 523.2C711.8 525.9 716.3 534.2 716.3 539.3C716.3 544.4 711.8 551.5 710.9 553.9M727 512.5C728.3 515.2 732.4 525.0 735 528.6C737.6 532.2 741.2 533.0 742.5 533.9M556 408.4L558.7 436.4M548 459.1L545.3 480.5M625.5 439.1L628.1 459.1M630.8 504.5C629.0 504.9 625.7 509.4 620.1 507.2C614.5 505.0 601.2 493.9 597.4 491.2"/></defs>
<use href="#m_p3_0" stroke-width="7" opacity="0.1" filter="url(#soft4)"/>
<use href="#m_p3_0" stroke="#fff" stroke-width="4.50" opacity="0.45" filter="url(#soft3)"/>
<use href="#m_p3_0" stroke-width="2.62" opacity="0.16" filter="url(#soft3)"/>
<use href="#m_p3_0" stroke-width="1.25" opacity="0.58" filter="url(#soft)"/>
</g>
<path d="M544.0 432.4a1.3 1.3 0 1 0 2.6 0a1.3 1.3 0 1 0 -2.6 0M648.2 459.1a1.3 1.3 0 1 0 2.6 0a1.3 1.3 0 1 0 -2.6 0M576.1 436.4a1.3 1.3 0 1 0 2.6 0a1.3 1.3 0 1 0 -2.6 0M605.5 436.4a1.3 1.3 0 1 0 2.6 0a1.3 1.3 0 1 0 -2.6 0M596.1 441.8a1.3 1.3 0 1 0 2.6 0a1.3 1.3 0 1 0 -2.6 0M546.7 459.1a1.3 1.3 0 1 0 2.6 0a1.3 1.3 0 1 0 -2.6 0M594.8 456.5a1.3 1.3 0 1 0 2.6 0a1.3 1.3 0 1 0 -2.6 0M640.2 444.4a1.3 1.3 0 1 0 2.6 0a1.3 1.3 0 1 0 -2.6 0M562.7 467.1a1.3 1.3 0 1 0 2.6 0a1.3 1.3 0 1 0 -2.6 0M613.5 464.5a1.3 1.3 0 1 0 2.6 0a1.3 1.3 0 1 0 -2.6 0M596.1 491.2a1.3 1.3 0 1 0 2.6 0a1.3 1.3 0 1 0 -2.6 0M544.0 501.9a1.3 1.3 0 1 0 2.6 0a1.3 1.3 0 1 0 -2.6 0M554.7 496.5a1.3 1.3 0 1 0 2.6 0a1.3 1.3 0 1 0 -2.6 0M565.4 480.5a1.3 1.3 0 1 0 2.6 0a1.3 1.3 0 1 0 -2.6 0M585.4 509.9a1.3 1.3 0 1 0 2.6 0a1.3 1.3 0 1 0 -2.6 0M613.5 483.2a1.3 1.3 0 1 0 2.6 0a1.3 1.3 0 1 0 -2.6 0M632.2 523.2a1.3 1.3 0 1 0 2.6 0a1.3 1.3 0 1 0 -2.6 0M629.5 504.5a1.3 1.3 0 1 0 2.6 0a1.3 1.3 0 1 0 -2.6 0M648.2 485.8a1.3 1.3 0 1 0 2.6 0a1.3 1.3 0 1 0 -2.6 0M666.9 509.9a1.3 1.3 0 1 0 2.6 0a1.3 1.3 0 1 0 -2.6 0M664.2 496.5a1.3 1.3 0 1 0 2.6 0a1.3 1.3 0 1 0 -2.6 0M664.2 472.5a1.3 1.3 0 1 0 2.6 0a1.3 1.3 0 1 0 -2.6 0M740.4 429.7a1.3 1.3 0 1 0 2.6 0a1.3 1.3 0 1 0 -2.6 0M677.6 456.5a1.3 1.3 0 1 0 2.6 0a1.3 1.3 0 1 0 -2.6 0M740.4 499.2a1.3 1.3 0 1 0 2.6 0a1.3 1.3 0 1 0 -2.6 0M690.9 491.2a1.3 1.3 0 1 0 2.6 0a1.3 1.3 0 1 0 -2.6 0M720.3 501.9a1.3 1.3 0 1 0 2.6 0a1.3 1.3 0 1 0 -2.6 0M688.3 507.2a1.3 1.3 0 1 0 2.6 0a1.3 1.3 0 1 0 -2.6 0M682.9 432.4a1.3 1.3 0 1 0 2.6 0a1.3 1.3 0 1 0 -2.6 0M688.3 387.0a1.3 1.3 0 1 0 2.6 0a1.3 1.3 0 1 0 -2.6 0M674.9 392.4a1.3 1.3 0 1 0 2.6 0a1.3 1.3 0 1 0 -2.6 0M640.2 387.0a1.3 1.3 0 1 0 2.6 0a1.3 1.3 0 1 0 -2.6 0M696.3 427.1a1.3 1.3 0 1 0 2.6 0a1.3 1.3 0 1 0 -2.6 0M690.9 392.4a1.3 1.3 0 1 0 2.6 0a1.3 1.3 0 1 0 -2.6 0M712.3 436.4a1.3 1.3 0 1 0 2.6 0a1.3 1.3 0 1 0 -2.6 0M737.7 416.4a1.3 1.3 0 1 0 2.6 0a1.3 1.3 0 1 0 -2.6 0M740.4 451.1a1.3 1.3 0 1 0 2.6 0a1.3 1.3 0 1 0 -2.6 0M699.0 464.5a1.3 1.3 0 1 0 2.6 0a1.3 1.3 0 1 0 -2.6 0M725.7 448.4a1.3 1.3 0 1 0 2.6 0a1.3 1.3 0 1 0 -2.6 0M616.2 531.2a1.3 1.3 0 1 0 2.6 0a1.3 1.3 0 1 0 -2.6 0M610.8 553.9a1.3 1.3 0 1 0 2.6 0a1.3 1.3 0 1 0 -2.6 0M648.2 523.2a1.3 1.3 0 1 0 2.6 0a1.3 1.3 0 1 0 -2.6 0M661.6 553.9a1.3 1.3 0 1 0 2.6 0a1.3 1.3 0 1 0 -2.6 0M573.4 515.2a1.3 1.3 0 1 0 2.6 0a1.3 1.3 0 1 0 -2.6 0M544.0 536.6a1.3 1.3 0 1 0 2.6 0a1.3 1.3 0 1 0 -2.6 0M592.1 523.2a1.3 1.3 0 1 0 2.6 0a1.3 1.3 0 1 0 -2.6 0M568.1 528.6a1.3 1.3 0 1 0 2.6 0a1.3 1.3 0 1 0 -2.6 0M656.2 389.7a1.3 1.3 0 1 0 2.6 0a1.3 1.3 0 1 0 -2.6 0M645.5 456.5a1.3 1.3 0 1 0 2.6 0a1.3 1.3 0 1 0 -2.6 0M672.2 451.1a1.3 1.3 0 1 0 2.6 0a1.3 1.3 0 1 0 -2.6 0M650.9 416.4a1.3 1.3 0 1 0 2.6 0a1.3 1.3 0 1 0 -2.6 0M677.6 413.7a1.3 1.3 0 1 0 2.6 0a1.3 1.3 0 1 0 -2.6 0M578.8 424.4a1.3 1.3 0 1 0 2.6 0a1.3 1.3 0 1 0 -2.6 0M549.4 411.1a1.3 1.3 0 1 0 2.6 0a1.3 1.3 0 1 0 -2.6 0M696.3 523.2a1.3 1.3 0 1 0 2.6 0a1.3 1.3 0 1 0 -2.6 0M688.3 553.9a1.3 1.3 0 1 0 2.6 0a1.3 1.3 0 1 0 -2.6 0M725.7 512.5a1.3 1.3 0 1 0 2.6 0a1.3 1.3 0 1 0 -2.6 0M740.4 517.9a1.3 1.3 0 1 0 2.6 0a1.3 1.3 0 1 0 -2.6 0M712.3 453.8a1.3 1.3 0 1 0 2.6 0a1.3 1.3 0 1 0 -2.6 0M704.3 469.8a1.3 1.3 0 1 0 2.6 0a1.3 1.3 0 1 0 -2.6 0M709.6 477.8a1.3 1.3 0 1 0 2.6 0a1.3 1.3 0 1 0 -2.6 0M725.7 496.5a1.3 1.3 0 1 0 2.6 0a1.3 1.3 0 1 0 -2.6 0M741.2 483.7a1.3 1.3 0 1 0 2.6 0a1.3 1.3 0 1 0 -2.6 0M696.3 400.4a1.3 1.3 0 1 0 2.6 0a1.3 1.3 0 1 0 -2.6 0M725.7 389.7a1.3 1.3 0 1 0 2.6 0a1.3 1.3 0 1 0 -2.6 0M715.0 419.1a1.3 1.3 0 1 0 2.6 0a1.3 1.3 0 1 0 -2.6 0M712.3 397.7a1.3 1.3 0 1 0 2.6 0a1.3 1.3 0 1 0 -2.6 0M656.2 539.3a1.3 1.3 0 1 0 2.6 0a1.3 1.3 0 1 0 -2.6 0M709.6 523.2a1.3 1.3 0 1 0 2.6 0a1.3 1.3 0 1 0 -2.6 0M709.6 553.9a1.3 1.3 0 1 0 2.6 0a1.3 1.3 0 1 0 -2.6 0M741.2 533.9a1.3 1.3 0 1 0 2.6 0a1.3 1.3 0 1 0 -2.6 0M554.7 408.4a1.3 1.3 0 1 0 2.6 0a1.3 1.3 0 1 0 -2.6 0M557.4 436.4a1.3 1.3 0 1 0 2.6 0a1.3 1.3 0 1 0 -2.6 0M544.0 480.5a1.3 1.3 0 1 0 2.6 0a1.3 1.3 0 1 0 -2.6 0M624.2 439.1a1.3 1.3 0 1 0 2.6 0a1.3 1.3 0 1 0 -2.6 0M626.8 459.1a1.3 1.3 0 1 0 2.6 0a1.3 1.3 0 1 0 -2.6 0" fill="#ea5a98" opacity="0.7" filter="url(#soft)"/>
<ellipse cx="589.4" cy="435.6" rx="1.3" ry="1.0" transform="rotate(0 589.4 435.6)" fill="#333" filter="url(#soft2)"/>
<ellipse cx="561.4" cy="481.0" rx="1.4" ry="1.1" transform="rotate(0 561.4 481.0)" fill="#333" filter="url(#soft2)"/>
<ellipse cx="668.2" cy="511.2" rx="1.6" ry="1.2" transform="rotate(0 668.2 511.2)" fill="#6a2a9a" filter="url(#soft2)"/>
<ellipse cx="641.5" cy="443.1" rx="1.2" ry="1.2" transform="rotate(0 641.5 443.1)" fill="#5b3a9b" filter="url(#soft2)"/>
<ellipse cx="556.0" cy="496.5" rx="1.2" ry="1.2" transform="rotate(0 556.0 496.5)" fill="#5b3a9b" filter="url(#soft2)"/>
<ellipse cx="649.5" cy="531.2" rx="1.2" ry="1.2" transform="rotate(0 649.5 531.2)" fill="#5b3a9b" filter="url(#soft2)"/>
<ellipse cx="597.4" cy="492.5" rx="1.3" ry="1.0" transform="rotate(0 597.4 492.5)" fill="#c03080" filter="url(#soft2)"/>
<ellipse cx="597.4" cy="455.1" rx="1.3" ry="1.0" transform="rotate(0 597.4 455.1)" fill="#c03080" filter="url(#soft2)"/>
<ellipse cx="737.6" cy="419.1" rx="1.2" ry="1.2" transform="rotate(0 737.6 419.1)" fill="#5b3a9b" filter="url(#soft2)"/>
</g>
<rect x="541.90" y="381.60" width="202.60" height="172.80" fill="none" stroke="#000" stroke-width="4.8" stroke-linejoin="round"/>
<rect x="670.5" y="538.7" width="67.3" height="5" fill="#000"/>
<text x="546.6" y="411.7" font-size="32" textLength="97.5" lengthAdjust="spacingAndGlyphs">C-PAT</text>
</g>
<g id="p4">
<rect x="124.3" y="567.3" width="200.3" height="173.8" fill="#f4f6f4"/>
<g clip-path="url(#clip_p4)">
<g fill="none" stroke="#f094b8" stroke-linecap="round" stroke-linejoin="round">
<defs><path id="m_p4_0" d="M126.3 599.6C129.8 599.8 141.4 599.6 147.6 600.9C153.8 602.2 160.2 606.2 163.5 607.5C166.8 608.8 161.7 609.3 167.5 608.9C173.3 608.5 188.3 605.6 198.1 604.9C207.8 604.2 219.3 601.4 226 604.9C232.7 608.4 234.2 617.5 238 626.1C241.8 634.7 243.3 651.2 248.6 656.7C253.9 662.2 263.7 657.6 269.9 659.4C276.1 661.2 281.4 665.3 285.8 667.3C290.2 669.3 293.3 673.3 296.4 671.3C299.5 669.3 300.8 660.3 304.4 655.4C307.9 650.5 314.7 644.5 317.7 642.1C320.7 639.7 321.7 641.0 322.5 640.8M167.5 608.9C166.4 612.7 162.7 624.0 160.9 631.5C159.1 639.0 160.9 651.4 156.9 654C152.9 656.6 142.0 649.4 136.9 647.4C131.8 645.4 128.1 643.0 126.3 642.1M156.9 654C159.8 657.8 166.9 668.8 174.2 676.6C181.5 684.4 191.8 698.4 200.7 700.6C209.5 702.8 219.3 697.2 227.3 689.9C235.3 682.6 245.1 662.2 248.6 656.7M200.7 700.6C201.1 701.9 206.1 706.3 203.4 708.5C200.8 710.7 191.5 713.7 184.8 713.9C178.2 714.1 170.2 709.9 163.5 709.9C156.8 709.9 150.2 718.5 144.9 713.9C139.6 709.2 134.7 689.1 131.6 682C128.5 674.9 127.2 673.1 126.3 671.3M144.9 713.9C144.2 716.5 142.2 725.5 140.9 729.8C139.6 734.1 137.6 738.2 136.9 739.9M203.4 708.5C206.5 710.3 214.5 715.7 222 719.2C229.5 722.8 240.6 726.3 248.6 729.8C256.6 733.2 266.3 738.2 269.9 739.9M226 604.9C228.4 604.5 235.1 602.2 240.6 602.2C246.1 602.2 253.0 607.1 259.2 604.9C265.4 602.7 272.0 594.2 277.8 588.9C283.6 583.6 291.1 575.6 293.8 573M259.2 604.9C260.1 607.5 264.9 614.6 264.5 620.8C264.1 627.0 259.2 636.1 256.6 642.1C254.0 648.1 249.9 654.3 248.6 656.7M264.5 620.8C268.9 621.7 282.2 622.5 291.1 626.1C300.0 629.7 313.3 639.4 317.7 642.1M296.4 671.3C296.8 674.8 299.5 685.1 299.1 692.6C298.7 700.1 296.9 708.6 293.8 716.5C290.7 724.4 282.7 736.0 280.5 739.9M293.8 716.5C296.0 717.4 302.3 720.5 307.1 721.8C311.9 723.1 319.9 724.0 322.5 724.5M277.8 588.9C282.7 589.8 299.7 593.8 307.1 594.2C314.6 594.7 319.9 592.0 322.5 591.6"/></defs>
<use href="#m_p4_0" stroke="#fff" stroke-width="5.76" opacity="0.4" filter="url(#soft3)"/>
<use href="#m_p4_0" stroke-width="3.36" opacity="0.16" filter="url(#soft3)"/>
<use href="#m_p4_0" stroke-width="1.60" opacity="0.56" filter="url(#soft)"/>
</g>
<path d="M125.0 599.6a1.3 1.3 0 1 0 2.6 0a1.3 1.3 0 1 0 -2.6 0M321.2 640.8a1.3 1.3 0 1 0 2.6 0a1.3 1.3 0 1 0 -2.6 0M166.2 608.9a1.3 1.3 0 1 0 2.6 0a1.3 1.3 0 1 0 -2.6 0M125.0 642.1a1.3 1.3 0 1 0 2.6 0a1.3 1.3 0 1 0 -2.6 0M155.6 654.0a1.3 1.3 0 1 0 2.6 0a1.3 1.3 0 1 0 -2.6 0M247.3 656.7a1.3 1.3 0 1 0 2.6 0a1.3 1.3 0 1 0 -2.6 0M199.4 700.6a1.3 1.3 0 1 0 2.6 0a1.3 1.3 0 1 0 -2.6 0M125.0 671.3a1.3 1.3 0 1 0 2.6 0a1.3 1.3 0 1 0 -2.6 0M143.6 713.9a1.3 1.3 0 1 0 2.6 0a1.3 1.3 0 1 0 -2.6 0M135.6 739.9a1.3 1.3 0 1 0 2.6 0a1.3 1.3 0 1 0 -2.6 0M202.1 708.5a1.3 1.3 0 1 0 2.6 0a1.3 1.3 0 1 0 -2.6 0M268.6 739.9a1.3 1.3 0 1 0 2.6 0a1.3 1.3 0 1 0 -2.6 0M224.7 604.9a1.3 1.3 0 1 0 2.6 0a1.3 1.3 0 1 0 -2.6 0M292.5 573.0a1.3 1.3 0 1 0 2.6 0a1.3 1.3 0 1 0 -2.6 0M257.9 604.9a1.3 1.3 0 1 0 2.6 0a1.3 1.3 0 1 0 -2.6 0M263.2 620.8a1.3 1.3 0 1 0 2.6 0a1.3 1.3 0 1 0 -2.6 0M316.4 642.1a1.3 1.3 0 1 0 2.6 0a1.3 1.3 0 1 0 -2.6 0M295.1 671.3a1.3 1.3 0 1 0 2.6 0a1.3 1.3 0 1 0 -2.6 0M279.2 739.9a1.3 1.3 0 1 0 2.6 0a1.3 1.3 0 1 0 -2.6 0M292.5 716.5a1.3 1.3 0 1 0 2.6 0a1.3 1.3 0 1 0 -2.6 0M321.2 724.5a1.3 1.3 0 1 0 2.6 0a1.3 1.3 0 1 0 -2.6 0M276.5 588.9a1.3 1.3 0 1 0 2.6 0a1.3 1.3 0 1 0 -2.6 0M321.2 591.6a1.3 1.3 0 1 0 2.6 0a1.3 1.3 0 1 0 -2.6 0" fill="#ee80b0" opacity="0.4" filter="url(#soft)"/>
<ellipse cx="227.9" cy="688.6" rx="2.6" ry="1.1" transform="rotate(-60 227.9 688.6)" fill="#5b3a9b" filter="url(#soft2)"/>
<ellipse cx="200.7" cy="701.9" rx="1.6" ry="1.0" transform="rotate(70 200.7 701.9)" fill="#5b3a9b" filter="url(#soft2)"/>
<ellipse cx="141.7" cy="725.8" rx="3.0" ry="1.1" transform="rotate(-75 141.7 725.8)" fill="#5b3a9b" filter="url(#soft2)"/>
<ellipse cx="295.1" cy="719.2" rx="2.8" ry="1.1" transform="rotate(-20 295.1 719.2)" fill="#5b3a9b" filter="url(#soft2)"/>
<ellipse cx="226.0" cy="604.9" rx="1.6" ry="1.2" transform="rotate(0 226.0 604.9)" fill="#b02070" filter="url(#soft2)"/>
<ellipse cx="133.0" cy="640.8" rx="1.6" ry="1.0" transform="rotate(70 133.0 640.8)" fill="#5b3a9b" filter="url(#soft2)"/>
<ellipse cx="263.2" cy="615.5" rx="2.0" ry="1.0" transform="rotate(70 263.2 615.5)" fill="#8a3aa0" filter="url(#soft2)"/>
<ellipse cx="248.6" cy="656.7" rx="1.5" ry="1.3" transform="rotate(0 248.6 656.7)" fill="#e03070" filter="url(#soft2)"/>
<ellipse cx="287.1" cy="734.3" rx="2.2" ry="1.0" transform="rotate(-25 287.1 734.3)" fill="#5b3a9b" filter="url(#soft2)"/>
<ellipse cx="285.8" cy="670.0" rx="1.6" ry="1.0" transform="rotate(60 285.8 670.0)" fill="#8a3aa0" filter="url(#soft2)"/>
<ellipse cx="317.7" cy="642.1" rx="1.4" ry="1.2" transform="rotate(0 317.7 642.1)" fill="#e03070" filter="url(#soft2)"/>
</g>
<rect x="124.30" y="567.30" width="200.30" height="173.80" fill="none" stroke="#000" stroke-width="4.8" stroke-linejoin="round"/>
<rect x="252.3" y="725.1" width="66.0" height="5" fill="#000"/>
<text x="125.8" y="598.6" font-size="32" textLength="145" lengthAdjust="spacingAndGlyphs">HF-gWAT</text>
</g>
<g id="p5">
<rect x="333.1" y="567.6" width="198.0" height="173.5" fill="#f8f6f8"/>
<g clip-path="url(#clip_p5)">
<g fill="none" stroke="#f07cb6" stroke-linecap="round" stroke-linejoin="round">
<defs><path id="m_p5_0" d="M336.2 572.8C339.7 574.5 351.9 578.4 357.1 583.2C362.3 588.0 364.9 596.5 367.5 601.5C370.1 606.5 370.1 609.3 372.7 613.2C375.3 617.1 379.6 621.9 383.1 624.9C386.6 627.9 392.9 628.9 393.5 631.5C394.1 634.1 389.6 636.3 387 640.6C384.4 644.9 378.1 654.2 377.9 657.5C377.7 660.8 384.4 659.7 385.7 660.1M336.2 621C339.7 622.1 351.0 625.5 357.1 627.5C363.2 629.5 367.7 630.6 372.7 632.8C377.7 635.0 384.6 639.3 387 640.6M393.5 631.5C397.4 633.0 408.9 637.4 417 640.6C425.1 643.9 437.9 652.7 441.8 651C445.7 649.3 440.3 635.9 440.5 630.2C440.7 624.6 444.0 621.9 443.1 617.1C442.2 612.3 437.4 607.6 435.2 601.5C433.0 595.4 431.3 585.6 430 580.6C428.7 575.6 427.8 573.0 427.4 571.5M443.1 617.1C445.3 617.5 452.0 619.1 456.1 619.7C460.2 620.4 465.9 620.8 467.8 621M448.3 571.5C449.6 576.1 452.9 590.6 456.1 598.9C459.4 607.1 465.9 617.3 467.8 621M467.8 621C468.2 616.9 469.4 604.5 470.4 596.3C471.4 588.0 473.2 575.6 473.8 571.5M476.9 585.8L497.8 575.4M466.5 621C468.2 624.3 473.4 633.0 476.9 640.6C480.4 648.2 482.2 662.5 487.4 666.6C492.6 670.7 502.1 665.9 508.2 665.3C514.3 664.6 520.5 663.4 523.9 662.7C527.3 662.1 527.8 661.6 528.6 661.4M441.8 651C442.9 654.0 445.9 662.2 448.3 669.2C450.7 676.2 456.5 685.3 456.1 692.7C455.7 700.1 450.1 710.6 445.7 713.6C441.3 716.6 435.2 712.2 430 710.9C424.8 709.6 417.0 706.6 414.4 705.7M385.7 660.1C387.4 662.5 391.4 666.9 396.2 674.5C401.0 682.1 410.9 697.0 414.4 705.7C417.9 714.4 417.0 720.9 417 726.6C417.0 732.3 414.8 737.9 414.4 740.1M377.9 657.5C375.3 659.5 368.4 665.5 362.3 669.2C356.2 672.9 345.8 677.5 341.4 679.7C337.0 681.9 337.1 681.9 336.2 682.3M338.8 682.3C339.7 684.5 342.3 690.5 344 695.3C345.7 700.1 347.0 705.7 349.2 710.9C351.4 716.1 356.2 721.7 357.1 726.6C358.0 731.5 354.9 737.9 354.5 740.1M487.4 666.6C487.0 669.2 485.7 675.6 484.8 682.3C483.9 689.0 484.4 702.2 482.2 707C480.0 711.8 476.0 713.3 471.7 710.9C467.4 708.5 458.7 695.7 456.1 692.7M482.2 707C483.1 709.4 485.2 715.9 487.4 721.4C489.6 726.9 493.9 737.0 495.2 740.1M466.5 714.9L476.9 713.6M523.9 662.7C523.5 660.8 523.0 658.6 521.3 651C519.5 643.4 516.0 627.1 513.4 617.1C510.8 607.1 507.3 598.5 505.6 591.1C503.9 583.7 503.4 575.8 503 572.8M513.4 721.4L528.6 710.9M445.7 713.6C445.7 715.8 446.6 722.2 445.7 726.6C444.8 731.0 441.4 737.9 440.5 740.1M505.6 591.1L525.2 580.6"/></defs>
<use href="#m_p5_0" stroke="#fff" stroke-width="6.12" opacity="0.4" filter="url(#soft3)"/>
<use href="#m_p5_0" stroke-width="3.57" opacity="0.20" filter="url(#soft3)"/>
<use href="#m_p5_0" stroke-width="1.70" opacity="0.70" filter="url(#soft)"/>
</g>
<path d="M334.9 572.8a1.3 1.3 0 1 0 2.6 0a1.3 1.3 0 1 0 -2.6 0M384.4 660.1a1.3 1.3 0 1 0 2.6 0a1.3 1.3 0 1 0 -2.6 0M334.9 621.0a1.3 1.3 0 1 0 2.6 0a1.3 1.3 0 1 0 -2.6 0M385.7 640.6a1.3 1.3 0 1 0 2.6 0a1.3 1.3 0 1 0 -2.6 0M392.2 631.5a1.3 1.3 0 1 0 2.6 0a1.3 1.3 0 1 0 -2.6 0M426.1 571.5a1.3 1.3 0 1 0 2.6 0a1.3 1.3 0 1 0 -2.6 0M441.8 617.1a1.3 1.3 0 1 0 2.6 0a1.3 1.3 0 1 0 -2.6 0M466.5 621.0a1.3 1.3 0 1 0 2.6 0a1.3 1.3 0 1 0 -2.6 0M447.0 571.5a1.3 1.3 0 1 0 2.6 0a1.3 1.3 0 1 0 -2.6 0M472.5 571.5a1.3 1.3 0 1 0 2.6 0a1.3 1.3 0 1 0 -2.6 0M475.6 585.8a1.3 1.3 0 1 0 2.6 0a1.3 1.3 0 1 0 -2.6 0M496.5 575.4a1.3 1.3 0 1 0 2.6 0a1.3 1.3 0 1 0 -2.6 0M465.2 621.0a1.3 1.3 0 1 0 2.6 0a1.3 1.3 0 1 0 -2.6 0M527.3 661.4a1.3 1.3 0 1 0 2.6 0a1.3 1.3 0 1 0 -2.6 0M440.5 651.0a1.3 1.3 0 1 0 2.6 0a1.3 1.3 0 1 0 -2.6 0M413.1 705.7a1.3 1.3 0 1 0 2.6 0a1.3 1.3 0 1 0 -2.6 0M413.1 740.1a1.3 1.3 0 1 0 2.6 0a1.3 1.3 0 1 0 -2.6 0M376.6 657.5a1.3 1.3 0 1 0 2.6 0a1.3 1.3 0 1 0 -2.6 0M334.9 682.3a1.3 1.3 0 1 0 2.6 0a1.3 1.3 0 1 0 -2.6 0M337.5 682.3a1.3 1.3 0 1 0 2.6 0a1.3 1.3 0 1 0 -2.6 0M353.2 740.1a1.3 1.3 0 1 0 2.6 0a1.3 1.3 0 1 0 -2.6 0M486.1 666.6a1.3 1.3 0 1 0 2.6 0a1.3 1.3 0 1 0 -2.6 0M454.8 692.7a1.3 1.3 0 1 0 2.6 0a1.3 1.3 0 1 0 -2.6 0M480.9 707.0a1.3 1.3 0 1 0 2.6 0a1.3 1.3 0 1 0 -2.6 0M493.9 740.1a1.3 1.3 0 1 0 2.6 0a1.3 1.3 0 1 0 -2.6 0M465.2 714.9a1.3 1.3 0 1 0 2.6 0a1.3 1.3 0 1 0 -2.6 0M475.6 713.6a1.3 1.3 0 1 0 2.6 0a1.3 1.3 0 1 0 -2.6 0M522.6 662.7a1.3 1.3 0 1 0 2.6 0a1.3 1.3 0 1 0 -2.6 0M501.7 572.8a1.3 1.3 0 1 0 2.6 0a1.3 1.3 0 1 0 -2.6 0M512.1 721.4a1.3 1.3 0 1 0 2.6 0a1.3 1.3 0 1 0 -2.6 0M527.3 710.9a1.3 1.3 0 1 0 2.6 0a1.3 1.3 0 1 0 -2.6 0M444.4 713.6a1.3 1.3 0 1 0 2.6 0a1.3 1.3 0 1 0 -2.6 0M439.2 740.1a1.3 1.3 0 1 0 2.6 0a1.3 1.3 0 1 0 -2.6 0M504.3 591.1a1.3 1.3 0 1 0 2.6 0a1.3 1.3 0 1 0 -2.6 0M523.9 580.6a1.3 1.3 0 1 0 2.6 0a1.3 1.3 0 1 0 -2.6 0" fill="#ee70b0" opacity="0.45" filter="url(#soft)"/>
<ellipse cx="381.8" cy="658.3" rx="3.2" ry="1.3" transform="rotate(20 381.8 658.3)" fill="#4a1a6a" filter="url(#soft2)"/>
<ellipse cx="339.6" cy="685.4" rx="3.6" ry="1.8" transform="rotate(70 339.6 685.4)" fill="#a0105a" filter="url(#soft2)"/>
<ellipse cx="342.5" cy="693.2" rx="3.4" ry="1.7" transform="rotate(70 342.5 693.2)" fill="#7a1060" filter="url(#soft2)"/>
<ellipse cx="467.8" cy="621.0" rx="2.8" ry="1.2" transform="rotate(-60 467.8 621.0)" fill="#4a2a8a" filter="url(#soft2)"/>
<ellipse cx="456.1" cy="692.7" rx="2.2" ry="1.4" transform="rotate(60 456.1 692.7)" fill="#5a1a7a" filter="url(#soft2)"/>
<ellipse cx="445.7" cy="714.9" rx="2.8" ry="1.3" transform="rotate(-70 445.7 714.9)" fill="#5a1a7a" filter="url(#soft2)"/>
<ellipse cx="475.6" cy="709.6" rx="3.0" ry="1.2" transform="rotate(10 475.6 709.6)" fill="#4a2a8a" filter="url(#soft2)"/>
<ellipse cx="415.7" cy="704.4" rx="2.2" ry="1.1" transform="rotate(-30 415.7 704.4)" fill="#7a2a9a" filter="url(#soft2)"/>
<ellipse cx="372.7" cy="613.2" rx="1.8" ry="1.0" transform="rotate(60 372.7 613.2)" fill="#7a2a9a" filter="url(#soft2)"/>
<ellipse cx="393.5" cy="631.5" rx="1.8" ry="1.0" transform="rotate(0 393.5 631.5)" fill="#7a2a9a" filter="url(#soft2)"/>
<ellipse cx="521.3" cy="652.3" rx="2.6" ry="1.1" transform="rotate(80 521.3 652.3)" fill="#4a2a8a" filter="url(#soft2)"/>
<ellipse cx="525.2" cy="662.7" rx="1.6" ry="1.2" transform="rotate(0 525.2 662.7)" fill="#7a2a9a" filter="url(#soft2)"/>
<ellipse cx="474.3" cy="684.9" rx="1.6" ry="1.0" transform="rotate(80 474.3 684.9)" fill="#7a2a9a" filter="url(#soft2)"/>
<ellipse cx="467.0" cy="714.9" rx="2.4" ry="1.0" transform="rotate(0 467.0 714.9)" fill="#d02080" filter="url(#soft2)"/>
</g>
<rect x="333.10" y="567.60" width="198.00" height="173.50" fill="none" stroke="#000" stroke-width="4.8" stroke-linejoin="round"/>
<rect x="459.7" y="724.7" width="65.8" height="5" fill="#000"/>
<text x="337.6" y="598.4" font-size="32" textLength="134.5" lengthAdjust="spacingAndGlyphs">HF-iWAT</text>
</g>
<g id="p6">
<rect x="544.2" y="567.3" width="200.3" height="173.8" fill="#e1f3ec"/>
<g clip-path="url(#clip_p6)">
<g fill="none" stroke="#f0849f" stroke-linecap="round" stroke-linejoin="round">
<defs><path id="m_p6_0" d="M545.3 586.4C548.0 589.5 553.8 599.1 561.4 605.1C569.0 611.1 581.8 621.3 590.7 622.4C599.6 623.5 606.8 614.8 614.8 611.7C622.8 608.6 631.7 606.1 638.8 603.7C645.9 601.3 653.0 600.0 657.5 597.1C662.0 594.2 661.9 590.6 665.5 586.4C669.1 582.2 676.7 574.2 678.9 571.7M590.7 622.4C590.0 625.8 586.9 637.8 586.7 642.5C586.5 647.2 592.7 648.7 589.4 650.5C586.1 652.3 573.6 652.0 566.7 653.1C559.8 654.2 551.6 656.2 548 657.1C544.4 658.0 545.8 658.3 545.3 658.5M589.4 650.5C594.1 655.0 611.9 672.1 617.5 677.2C623.1 682.3 617.9 681.7 622.8 681.2C627.7 680.8 640.1 677.8 646.8 674.5C653.5 671.2 658.0 666.5 662.9 661.2C667.8 655.9 673.1 648.3 676.2 642.5C679.3 636.7 681.6 631.8 681.6 626.4C681.6 621.0 680.2 615.3 676.2 610.4C672.2 605.5 660.6 599.3 657.5 597.1M622.8 681.2C621.9 684.1 620.4 693.6 617.5 698.5C614.6 703.4 611.6 707.5 605.4 710.6C599.2 713.7 588.3 714.8 580.1 717.2C571.9 719.7 561.8 723.5 556 725.3C550.2 727.1 547.1 727.5 545.3 727.9M605.4 710.6C606.5 713.5 609.6 722.9 612.1 727.9C614.6 732.9 618.8 738.6 620.1 740.7M646.8 674.5C649.0 675.8 656.2 678.9 660.2 682.5C664.2 686.1 668.7 690.5 670.9 695.9C673.1 701.2 673.5 708.8 673.5 714.6C673.5 720.4 671.1 726.2 670.9 730.6C670.7 735.0 672.0 739.0 672.2 740.7M660.2 682.5C663.3 682.1 674.0 682.1 678.9 679.9C683.8 677.7 687.4 671.9 689.6 669.2C691.8 666.5 692.4 668.2 692.2 663.8C692.0 659.3 690.0 648.7 688.2 642.5C686.4 636.3 682.7 629.1 681.6 626.4M688.2 642.5C688.9 640.3 689.3 634.0 692.2 629.1C695.1 624.2 700.7 617.3 705.6 613.1C710.5 608.9 716.3 606.2 721.6 603.7C726.9 601.2 734.1 599.5 737.6 598.4C741.1 597.3 741.7 597.3 742.5 597.1M692.2 663.8C694.4 665.6 699.8 671.4 705.6 674.5C711.4 677.6 720.9 682.0 727 682.5C733.1 683.0 739.9 678.1 742.5 677.2M727 682.5C727.9 687.0 729.7 703.9 732.3 709.2C734.9 714.6 740.8 713.7 742.5 714.6M732.3 709.2C730.5 711.4 726.0 717.4 721.6 722.6C717.2 727.9 708.3 737.7 705.6 740.7M673.5 575.7C674.4 578.4 676.2 586.8 678.9 591.7C681.6 596.6 685.1 601.5 689.6 605.1C694.1 608.7 702.9 611.8 705.6 613.1M727 573C727.4 575.7 727.8 584.8 729.6 589C731.4 593.2 736.3 596.8 737.6 598.4"/></defs>
<use href="#m_p6_0" stroke="#fff" stroke-width="6.30" opacity="0.5" filter="url(#soft3)"/>
<use href="#m_p6_0" stroke-width="3.68" opacity="0.17" filter="url(#soft3)"/>
<use href="#m_p6_0" stroke-width="1.75" opacity="0.62" filter="url(#soft)"/>
</g>
<path d="M544.0 586.4a1.3 1.3 0 1 0 2.6 0a1.3 1.3 0 1 0 -2.6 0M677.6 571.7a1.3 1.3 0 1 0 2.6 0a1.3 1.3 0 1 0 -2.6 0M589.4 622.4a1.3 1.3 0 1 0 2.6 0a1.3 1.3 0 1 0 -2.6 0M544.0 658.5a1.3 1.3 0 1 0 2.6 0a1.3 1.3 0 1 0 -2.6 0M588.1 650.5a1.3 1.3 0 1 0 2.6 0a1.3 1.3 0 1 0 -2.6 0M656.2 597.1a1.3 1.3 0 1 0 2.6 0a1.3 1.3 0 1 0 -2.6 0M621.5 681.2a1.3 1.3 0 1 0 2.6 0a1.3 1.3 0 1 0 -2.6 0M544.0 727.9a1.3 1.3 0 1 0 2.6 0a1.3 1.3 0 1 0 -2.6 0M604.1 710.6a1.3 1.3 0 1 0 2.6 0a1.3 1.3 0 1 0 -2.6 0M618.8 740.7a1.3 1.3 0 1 0 2.6 0a1.3 1.3 0 1 0 -2.6 0M645.5 674.5a1.3 1.3 0 1 0 2.6 0a1.3 1.3 0 1 0 -2.6 0M670.9 740.7a1.3 1.3 0 1 0 2.6 0a1.3 1.3 0 1 0 -2.6 0M658.9 682.5a1.3 1.3 0 1 0 2.6 0a1.3 1.3 0 1 0 -2.6 0M680.3 626.4a1.3 1.3 0 1 0 2.6 0a1.3 1.3 0 1 0 -2.6 0M686.9 642.5a1.3 1.3 0 1 0 2.6 0a1.3 1.3 0 1 0 -2.6 0M741.2 597.1a1.3 1.3 0 1 0 2.6 0a1.3 1.3 0 1 0 -2.6 0M690.9 663.8a1.3 1.3 0 1 0 2.6 0a1.3 1.3 0 1 0 -2.6 0M741.2 677.2a1.3 1.3 0 1 0 2.6 0a1.3 1.3 0 1 0 -2.6 0M725.7 682.5a1.3 1.3 0 1 0 2.6 0a1.3 1.3 0 1 0 -2.6 0M741.2 714.6a1.3 1.3 0 1 0 2.6 0a1.3 1.3 0 1 0 -2.6 0M731.0 709.2a1.3 1.3 0 1 0 2.6 0a1.3 1.3 0 1 0 -2.6 0M704.3 740.7a1.3 1.3 0 1 0 2.6 0a1.3 1.3 0 1 0 -2.6 0M672.2 575.7a1.3 1.3 0 1 0 2.6 0a1.3 1.3 0 1 0 -2.6 0M704.3 613.1a1.3 1.3 0 1 0 2.6 0a1.3 1.3 0 1 0 -2.6 0M725.7 573.0a1.3 1.3 0 1 0 2.6 0a1.3 1.3 0 1 0 -2.6 0M736.3 598.4a1.3 1.3 0 1 0 2.6 0a1.3 1.3 0 1 0 -2.6 0" fill="#ee7898" opacity="0.45" filter="url(#soft)"/>
<ellipse cx="680.2" cy="629.6" rx="3.4" ry="1.2" transform="rotate(75 680.2 629.6)" fill="#3a2a7a" filter="url(#soft2)"/>
<ellipse cx="588.1" cy="651.0" rx="2.6" ry="1.1" transform="rotate(10 588.1 651.0)" fill="#3a2a7a" filter="url(#soft2)"/>
<ellipse cx="650.0" cy="673.4" rx="2.6" ry="1.1" transform="rotate(-40 650.0 673.4)" fill="#3a2a7a" filter="url(#soft2)"/>
<ellipse cx="605.4" cy="710.6" rx="2.0" ry="1.2" transform="rotate(-30 605.4 710.6)" fill="#3a2a7a" filter="url(#soft2)"/>
<ellipse cx="566.7" cy="719.9" rx="2.4" ry="1.0" transform="rotate(10 566.7 719.9)" fill="#3a2a7a" filter="url(#soft2)"/>
<ellipse cx="721.6" cy="603.2" rx="2.6" ry="1.1" transform="rotate(-10 721.6 603.2)" fill="#3a2a7a" filter="url(#soft2)"/>
<ellipse cx="692.2" cy="662.5" rx="1.5" ry="1.2" transform="rotate(0 692.2 662.5)" fill="#5a2a8a" filter="url(#soft2)"/>
<ellipse cx="731.0" cy="708.7" rx="1.8" ry="1.2" transform="rotate(-30 731.0 708.7)" fill="#5a2a8a" filter="url(#soft2)"/>
<ellipse cx="676.2" cy="613.1" rx="1.5" ry="1.0" transform="rotate(80 676.2 613.1)" fill="#5a2a8a" filter="url(#soft2)"/>
<ellipse cx="672.2" cy="577.0" rx="1.6" ry="1.0" transform="rotate(-40 672.2 577.0)" fill="#5a2a8a" filter="url(#soft2)"/>
<ellipse cx="688.2" cy="642.5" rx="1.8" ry="1.0" transform="rotate(80 688.2 642.5)" fill="#3a2a7a" filter="url(#soft2)"/>
</g>
<rect x="544.20" y="567.30" width="200.30" height="173.80" fill="none" stroke="#000" stroke-width="4.8" stroke-linejoin="round"/>
<rect x="670.5" y="724.7" width="67.3" height="5" fill="#000"/>
<text x="550.3" y="598.4" font-size="32" textLength="118" lengthAdjust="spacingAndGlyphs">HF-PAT</text>
</g>
</g>
<g id="panelD">
<text x="73.2" y="791" font-size="27.5" font-weight="bold" >D.</text>
<text x="227.7" y="799.5" font-size="37" textLength="384.3" lengthAdjust="spacingAndGlyphs" >Cell volume distribution</text>
<line x1="180.8" y1="803.4" x2="180.8" y2="1119.7" stroke="#1a1a1a" stroke-width="1.2" stroke-linecap="butt"/>
<line x1="176.20000000000002" y1="1118.7" x2="180.8" y2="1118.7" stroke="#000" stroke-width="1.3" stroke-linecap="butt"/>
<text x="174.0" y="1128.6000000000001" font-size="29" text-anchor="end" textLength="15.6" lengthAdjust="spacingAndGlyphs" >0</text>
<line x1="176.20000000000002" y1="1040.05" x2="180.8" y2="1040.05" stroke="#000" stroke-width="1.3" stroke-linecap="butt"/>
<text x="174.0" y="1049.95" font-size="29" text-anchor="end" textLength="31.2" lengthAdjust="spacingAndGlyphs" >20</text>
<line x1="176.20000000000002" y1="961.4000000000001" x2="180.8" y2="961.4000000000001" stroke="#000" stroke-width="1.3" stroke-linecap="butt"/>
<text x="174.0" y="971.3000000000001" font-size="29" text-anchor="end" textLength="31.2" lengthAdjust="spacingAndGlyphs" >40</text>
<line x1="176.20000000000002" y1="882.75" x2="180.8" y2="882.75" stroke="#000" stroke-width="1.3" stroke-linecap="butt"/>
<text x="174.0" y="892.65" font-size="29" text-anchor="end" textLength="31.2" lengthAdjust="spacingAndGlyphs" >60</text>
<line x1="176.20000000000002" y1="804.1" x2="180.8" y2="804.1" stroke="#000" stroke-width="1.3" stroke-linecap="butt"/>
<text x="174.0" y="814.0" font-size="29" text-anchor="end" textLength="31.2" lengthAdjust="spacingAndGlyphs" >80</text>
<text x="132.6" y="1008.6" font-size="27" textLength="116" lengthAdjust="spacingAndGlyphs" transform="rotate(-90 132.6 1008.6)" >% of cells</text>
<text x="320.8" y="1246" font-size="27" textLength="211.5" lengthAdjust="spacingAndGlyphs" >Cell volume (a.u.)</text>
<rect x="191.10" y="1028.54" width="3.40" height="33.75" fill="#000" />
<path d="M189.70 1027.74h6.2v2.6q0 1.3 -1.3 1.3h-3.6q-1.3 0 -1.3 -1.3z" fill="#000"/>
<rect x="190.15" y="1064.49" width="5.30" height="54.21" fill="#000" />
<rect x="190.65" y="1064.99" width="4.30" height="53.71" fill="#8c8c8c" />
<path d="M190.65 1065.24h4.30v1.90h-4.30zM190.65 1068.69h4.30v1.90h-4.30zM190.65 1072.14h4.30v1.90h-4.30zM190.65 1075.59h4.30v1.90h-4.30zM190.65 1079.04h4.30v1.90h-4.30zM190.65 1082.49h4.30v1.90h-4.30zM190.65 1085.94h4.30v1.90h-4.30zM190.65 1089.39h4.30v1.90h-4.30zM190.65 1092.84h4.30v1.90h-4.30zM190.65 1096.29h4.30v1.90h-4.30zM190.65 1099.74h4.30v1.90h-4.30zM190.65 1103.19h4.30v1.90h-4.30zM190.65 1106.64h4.30v1.90h-4.30zM190.65 1110.09h4.30v1.90h-4.30zM190.65 1113.54h4.30v1.90h-4.30zM190.65 1116.99h4.30v1.71h-4.30z" fill="#fbfbfb"/>
<path d="M186.90 1061.29h11.80V1119.20H194.95V1064.99H190.65V1119.20H186.90z" fill="#000"/>
<rect x="205.80" y="1082.02" width="3.40" height="19.59" fill="#000" />
<path d="M204.40 1081.22h6.2v2.6q0 1.3 -1.3 1.3h-3.6q-1.3 0 -1.3 -1.3z" fill="#000"/>
<rect x="204.85" y="1103.81" width="5.30" height="14.89" fill="#000" />
<path d="M205.50 1104.81h4.00v2.60h-4.00zM205.50 1109.46h4.00v2.60h-4.00zM205.50 1114.11h4.00v2.60h-4.00z" fill="#fdfdfd"/>
<path d="M201.60 1100.61h11.80V1119.20H209.65V1104.31H205.35V1119.20H201.60z" fill="#000"/>
<rect x="220.50" y="1094.21" width="3.40" height="9.37" fill="#000" />
<path d="M219.10 1093.41h6.2v2.6q0 1.3 -1.3 1.3h-3.6q-1.3 0 -1.3 -1.3z" fill="#000"/>
<rect x="216.30" y="1102.58" width="11.80" height="16.12" fill="#000" />
<rect x="235.20" y="1109.55" width="3.40" height="5.83" fill="#000" />
<path d="M233.80 1108.75h6.2v2.6q0 1.3 -1.3 1.3h-3.6q-1.3 0 -1.3 -1.3z" fill="#000"/>
<rect x="234.25" y="1117.57" width="5.30" height="1.13" fill="#000" />
<rect x="234.55" y="1118.07" width="4.70" height="0.63" fill="#a4a3a8" />
<path d="M231.00 1114.37h11.80V1119.20H239.25V1118.07H234.55V1119.20H231.00z" fill="#000"/>
<rect x="249.90" y="1015.17" width="3.40" height="21.56" fill="#000" />
<path d="M248.50 1014.37h6.2v2.6q0 1.3 -1.3 1.3h-3.6q-1.3 0 -1.3 -1.3z" fill="#000"/>
<rect x="248.95" y="1038.92" width="5.30" height="79.78" fill="#000" />
<path d="M249.55 1039.62L253.65 1043.72M249.55 1045.47L253.65 1049.57M249.55 1051.32L253.65 1055.42M249.55 1057.17L253.65 1061.27M249.55 1063.02L253.65 1067.12M249.55 1068.87L253.65 1072.97M249.55 1074.72L253.65 1078.82M249.55 1080.57L253.65 1084.67M249.55 1086.42L253.65 1090.52M249.55 1092.27L253.65 1096.37M249.55 1098.12L253.65 1102.22M249.55 1103.97L253.65 1108.07M249.55 1109.82L253.65 1113.92M249.55 1115.67L253.65 1119.77" stroke="#fff" stroke-width="1.9" fill="none"/>
<path d="M245.70 1035.72h11.80V1119.20H253.75V1039.42H249.45V1119.20H245.70z" fill="#000"/>
<rect x="264.60" y="1050.17" width="3.40" height="27.85" fill="#000" />
<path d="M263.20 1049.37h6.2v2.6q0 1.3 -1.3 1.3h-3.6q-1.3 0 -1.3 -1.3z" fill="#000"/>
<rect x="263.65" y="1080.22" width="5.30" height="38.48" fill="#000" />
<rect x="264.15" y="1080.72" width="4.30" height="37.98" fill="#9c9c9c" />
<clipPath id="c2641_10807"><rect x="264.15" y="1080.72" width="4.30" height="37.98"/></clipPath>
<path d="M263.15 1076.22L269.45 1083.42M263.15 1081.52L269.45 1088.72M263.15 1086.82L269.45 1094.02M263.15 1092.12L269.45 1099.32M263.15 1097.42L269.45 1104.62M263.15 1102.72L269.45 1109.92M263.15 1108.02L269.45 1115.22M263.15 1113.32L269.45 1120.52" stroke="#fbfbfb" stroke-width="2.1" fill="none" clip-path="url(#c2641_10807)"/>
<path d="M260.40 1077.02h11.80V1119.20H268.45V1080.72H264.15V1119.20H260.40z" fill="#000"/>
<rect x="302.90" y="1048.59" width="3.40" height="25.10" fill="#000" />
<path d="M301.50 1047.79h6.2v2.6q0 1.3 -1.3 1.3h-3.6q-1.3 0 -1.3 -1.3z" fill="#000"/>
<rect x="301.95" y="1075.89" width="5.30" height="42.81" fill="#000" />
<rect x="302.45" y="1076.39" width="4.30" height="42.31" fill="#8c8c8c" />
<path d="M302.45 1076.64h4.30v1.90h-4.30zM302.45 1080.09h4.30v1.90h-4.30zM302.45 1083.54h4.30v1.90h-4.30zM302.45 1086.99h4.30v1.90h-4.30zM302.45 1090.44h4.30v1.90h-4.30zM302.45 1093.89h4.30v1.90h-4.30zM302.45 1097.34h4.30v1.90h-4.30zM302.45 1100.79h4.30v1.90h-4.30zM302.45 1104.24h4.30v1.90h-4.30zM302.45 1107.69h4.30v1.90h-4.30zM302.45 1111.14h4.30v1.90h-4.30zM302.45 1114.59h4.30v1.90h-4.30zM302.45 1118.04h4.30v0.66h-4.30z" fill="#fbfbfb"/>
<path d="M298.70 1072.69h11.80V1119.20H306.75V1076.39H302.45V1119.20H298.70z" fill="#000"/>
<rect x="317.60" y="1102.47" width="3.40" height="7.01" fill="#000" />
<path d="M316.20 1101.67h6.2v2.6q0 1.3 -1.3 1.3h-3.6q-1.3 0 -1.3 -1.3z" fill="#000"/>
<rect x="316.65" y="1111.68" width="5.30" height="7.02" fill="#000" />
<path d="M317.30 1112.68h4.00v2.60h-4.00zM317.30 1117.33h4.00v1.37h-4.00z" fill="#fdfdfd"/>
<path d="M313.40 1108.48h11.80V1119.20H321.45V1112.18H317.15V1119.20H313.40z" fill="#000"/>
<rect x="332.30" y="1085.17" width="3.40" height="10.15" fill="#000" />
<path d="M330.90 1084.37h6.2v2.6q0 1.3 -1.3 1.3h-3.6q-1.3 0 -1.3 -1.3z" fill="#000"/>
<rect x="328.10" y="1094.32" width="11.80" height="24.38" fill="#000" />
<rect x="347.00" y="1091.85" width="3.40" height="10.94" fill="#000" />
<path d="M345.60 1091.05h6.2v2.6q0 1.3 -1.3 1.3h-3.6q-1.3 0 -1.3 -1.3z" fill="#000"/>
<rect x="346.05" y="1104.99" width="5.30" height="13.71" fill="#000" />
<rect x="346.35" y="1105.49" width="4.70" height="13.21" fill="#a4a3a8" />
<path d="M342.80 1101.79h11.80V1119.20H351.05V1105.49H346.35V1119.20H342.80z" fill="#000"/>
<rect x="361.70" y="1009.27" width="3.40" height="17.62" fill="#000" />
<path d="M360.30 1008.47h6.2v2.6q0 1.3 -1.3 1.3h-3.6q-1.3 0 -1.3 -1.3z" fill="#000"/>
<rect x="360.75" y="1029.09" width="5.30" height="89.61" fill="#000" />
<path d="M361.35 1029.79L365.45 1033.89M361.35 1035.64L365.45 1039.74M361.35 1041.49L365.45 1045.59M361.35 1047.34L365.45 1051.44M361.35 1053.19L365.45 1057.29M361.35 1059.04L365.45 1063.14M361.35 1064.89L365.45 1068.99M361.35 1070.74L365.45 1074.84M361.35 1076.59L365.45 1080.69M361.35 1082.44L365.45 1086.54M361.35 1088.29L365.45 1092.39M361.35 1094.14L365.45 1098.24M361.35 1099.99L365.45 1104.09M361.35 1105.84L365.45 1109.94M361.35 1111.69L365.45 1115.79" stroke="#fff" stroke-width="1.9" fill="none"/>
<path d="M357.50 1025.89h11.80V1119.20H365.55V1029.59H361.25V1119.20H357.50z" fill="#000"/>
<rect x="376.40" y="1056.85" width="3.40" height="21.16" fill="#000" />
<path d="M375.00 1056.05h6.2v2.6q0 1.3 -1.3 1.3h-3.6q-1.3 0 -1.3 -1.3z" fill="#000"/>
<rect x="375.45" y="1080.22" width="5.30" height="38.48" fill="#000" />
<rect x="375.95" y="1080.72" width="4.30" height="37.98" fill="#9c9c9c" />
<clipPath id="c3759_10807"><rect x="375.95" y="1080.72" width="4.30" height="37.98"/></clipPath>
<path d="M374.95 1076.22L381.25 1083.42M374.95 1081.52L381.25 1088.72M374.95 1086.82L381.25 1094.02M374.95 1092.12L381.25 1099.32M374.95 1097.42L381.25 1104.62M374.95 1102.72L381.25 1109.92M374.95 1108.02L381.25 1115.22M374.95 1113.32L381.25 1120.52" stroke="#fbfbfb" stroke-width="2.1" fill="none" clip-path="url(#c3759_10807)"/>
<path d="M372.20 1077.02h11.80V1119.20H380.25V1080.72H375.95V1119.20H372.20z" fill="#000"/>
<rect x="414.70" y="942.42" width="3.40" height="32.96" fill="#000" />
<path d="M413.30 941.62h6.2v2.6q0 1.3 -1.3 1.3h-3.6q-1.3 0 -1.3 -1.3z" fill="#000"/>
<rect x="413.75" y="977.58" width="5.30" height="141.12" fill="#000" />
<rect x="414.25" y="978.08" width="4.30" height="140.62" fill="#8c8c8c" />
<path d="M414.25 978.33h4.30v1.90h-4.30zM414.25 981.78h4.30v1.90h-4.30zM414.25 985.23h4.30v1.90h-4.30zM414.25 988.68h4.30v1.90h-4.30zM414.25 992.13h4.30v1.90h-4.30zM414.25 995.58h4.30v1.90h-4.30zM414.25 999.03h4.30v1.90h-4.30zM414.25 1002.48h4.30v1.90h-4.30zM414.25 1005.93h4.30v1.90h-4.30zM414.25 1009.38h4.30v1.90h-4.30zM414.25 1012.83h4.30v1.90h-4.30zM414.25 1016.28h4.30v1.90h-4.30zM414.25 1019.73h4.30v1.90h-4.30zM414.25 1023.18h4.30v1.90h-4.30zM414.25 1026.63h4.30v1.90h-4.30zM414.25 1030.08h4.30v1.90h-4.30zM414.25 1033.53h4.30v1.90h-4.30zM414.25 1036.98h4.30v1.90h-4.30zM414.25 1040.43h4.30v1.90h-4.30zM414.25 1043.88h4.30v1.90h-4.30zM414.25 1047.33h4.30v1.90h-4.30zM414.25 1050.78h4.30v1.90h-4.30zM414.25 1054.23h4.30v1.90h-4.30zM414.25 1057.68h4.30v1.90h-4.30zM414.25 1061.13h4.30v1.90h-4.30zM414.25 1064.58h4.30v1.90h-4.30zM414.25 1068.03h4.30v1.90h-4.30zM414.25 1071.48h4.30v1.90h-4.30zM414.25 1074.93h4.30v1.90h-4.30zM414.25 1078.38h4.30v1.90h-4.30zM414.25 1081.83h4.30v1.90h-4.30zM414.25 1085.28h4.30v1.90h-4.30zM414.25 1088.73h4.30v1.90h-4.30zM414.25 1092.18h4.30v1.90h-4.30zM414.25 1095.63h4.30v1.90h-4.30zM414.25 1099.08h4.30v1.90h-4.30zM414.25 1102.53h4.30v1.90h-4.30zM414.25 1105.98h4.30v1.90h-4.30zM414.25 1109.43h4.30v1.90h-4.30zM414.25 1112.88h4.30v1.90h-4.30zM414.25 1116.33h4.30v1.90h-4.30z" fill="#fbfbfb"/>
<path d="M410.50 974.38h11.80V1119.20H418.55V978.08H414.25V1119.20H410.50z" fill="#000"/>
<rect x="429.40" y="1004.16" width="3.40" height="37.29" fill="#000" />
<path d="M428.00 1003.36h6.2v2.6q0 1.3 -1.3 1.3h-3.6q-1.3 0 -1.3 -1.3z" fill="#000"/>
<rect x="428.45" y="1043.64" width="5.30" height="75.06" fill="#000" />
<path d="M429.10 1044.64h4.00v2.60h-4.00zM429.10 1049.29h4.00v2.60h-4.00zM429.10 1053.94h4.00v2.60h-4.00zM429.10 1058.59h4.00v2.60h-4.00zM429.10 1063.24h4.00v2.60h-4.00zM429.10 1067.89h4.00v2.60h-4.00zM429.10 1072.54h4.00v2.60h-4.00zM429.10 1077.19h4.00v2.60h-4.00zM429.10 1081.84h4.00v2.60h-4.00zM429.10 1086.49h4.00v2.60h-4.00zM429.10 1091.14h4.00v2.60h-4.00zM429.10 1095.79h4.00v2.60h-4.00zM429.10 1100.44h4.00v2.60h-4.00zM429.10 1105.09h4.00v2.60h-4.00zM429.10 1109.74h4.00v2.60h-4.00zM429.10 1114.39h4.00v2.60h-4.00z" fill="#fdfdfd"/>
<path d="M425.20 1040.44h11.80V1119.20H433.25V1044.14H428.95V1119.20H425.20z" fill="#000"/>
<rect x="444.10" y="884.61" width="3.40" height="36.11" fill="#000" />
<path d="M442.70 883.81h6.2v2.6q0 1.3 -1.3 1.3h-3.6q-1.3 0 -1.3 -1.3z" fill="#000"/>
<rect x="439.90" y="919.72" width="11.80" height="198.98" fill="#000" />
<rect x="458.80" y="948.32" width="3.40" height="60.09" fill="#000" />
<path d="M457.40 947.52h6.2v2.6q0 1.3 -1.3 1.3h-3.6q-1.3 0 -1.3 -1.3z" fill="#000"/>
<rect x="457.85" y="1010.61" width="5.30" height="108.09" fill="#000" />
<rect x="458.15" y="1011.11" width="4.70" height="107.59" fill="#a4a3a8" />
<path d="M454.60 1007.41h11.80V1119.20H462.85V1011.11H458.15V1119.20H454.60z" fill="#000"/>
<rect x="473.50" y="930.23" width="3.40" height="21.56" fill="#000" />
<path d="M472.10 929.43h6.2v2.6q0 1.3 -1.3 1.3h-3.6q-1.3 0 -1.3 -1.3z" fill="#000"/>
<rect x="472.55" y="953.98" width="5.30" height="164.72" fill="#000" />
<path d="M473.15 954.68L477.25 958.78M473.15 960.53L477.25 964.63M473.15 966.38L477.25 970.48M473.15 972.23L477.25 976.33M473.15 978.08L477.25 982.18M473.15 983.93L477.25 988.03M473.15 989.78L477.25 993.88M473.15 995.63L477.25 999.73M473.15 1001.48L477.25 1005.58M473.15 1007.33L477.25 1011.43M473.15 1013.18L477.25 1017.28M473.15 1019.03L477.25 1023.13M473.15 1024.88L477.25 1028.98M473.15 1030.73L477.25 1034.83M473.15 1036.58L477.25 1040.68M473.15 1042.43L477.25 1046.53M473.15 1048.28L477.25 1052.38M473.15 1054.13L477.25 1058.23M473.15 1059.98L477.25 1064.08M473.15 1065.83L477.25 1069.93M473.15 1071.68L477.25 1075.78M473.15 1077.53L477.25 1081.63M473.15 1083.38L477.25 1087.48M473.15 1089.23L477.25 1093.33M473.15 1095.08L477.25 1099.18M473.15 1100.93L477.25 1105.03M473.15 1106.78L477.25 1110.88M473.15 1112.63L477.25 1116.73" stroke="#fff" stroke-width="1.9" fill="none"/>
<path d="M469.30 950.78h11.80V1119.20H477.35V954.48H473.05V1119.20H469.30z" fill="#000"/>
<rect x="488.20" y="1004.55" width="3.40" height="11.72" fill="#000" />
<path d="M486.80 1003.75h6.2v2.6q0 1.3 -1.3 1.3h-3.6q-1.3 0 -1.3 -1.3z" fill="#000"/>
<rect x="487.25" y="1018.48" width="5.30" height="100.22" fill="#000" />
<rect x="487.75" y="1018.98" width="4.30" height="99.72" fill="#9c9c9c" />
<clipPath id="c4877_10189"><rect x="487.75" y="1018.98" width="4.30" height="99.72"/></clipPath>
<path d="M486.75 1014.48L493.05 1021.68M486.75 1019.78L493.05 1026.98M486.75 1025.08L493.05 1032.28M486.75 1030.38L493.05 1037.58M486.75 1035.68L493.05 1042.88M486.75 1040.98L493.05 1048.18M486.75 1046.28L493.05 1053.48M486.75 1051.58L493.05 1058.78M486.75 1056.88L493.05 1064.08M486.75 1062.18L493.05 1069.38M486.75 1067.48L493.05 1074.68M486.75 1072.78L493.05 1079.98M486.75 1078.08L493.05 1085.28M486.75 1083.38L493.05 1090.58M486.75 1088.68L493.05 1095.88M486.75 1093.98L493.05 1101.18M486.75 1099.28L493.05 1106.48M486.75 1104.58L493.05 1111.78M486.75 1109.88L493.05 1117.08M486.75 1115.18L493.05 1122.38" stroke="#fbfbfb" stroke-width="2.1" fill="none" clip-path="url(#c4877_10189)"/>
<path d="M484.00 1015.28h11.80V1119.20H492.05V1018.98H487.75V1119.20H484.00z" fill="#000"/>
<rect x="526.50" y="1025.79" width="3.40" height="23.92" fill="#000" />
<path d="M525.10 1024.99h6.2v2.6q0 1.3 -1.3 1.3h-3.6q-1.3 0 -1.3 -1.3z" fill="#000"/>
<rect x="525.55" y="1051.90" width="5.30" height="66.80" fill="#000" />
<rect x="526.05" y="1052.40" width="4.30" height="66.30" fill="#8c8c8c" />
<path d="M526.05 1052.65h4.30v1.90h-4.30zM526.05 1056.10h4.30v1.90h-4.30zM526.05 1059.55h4.30v1.90h-4.30zM526.05 1063.00h4.30v1.90h-4.30zM526.05 1066.45h4.30v1.90h-4.30zM526.05 1069.90h4.30v1.90h-4.30zM526.05 1073.35h4.30v1.90h-4.30zM526.05 1076.80h4.30v1.90h-4.30zM526.05 1080.25h4.30v1.90h-4.30zM526.05 1083.70h4.30v1.90h-4.30zM526.05 1087.15h4.30v1.90h-4.30zM526.05 1090.60h4.30v1.90h-4.30zM526.05 1094.05h4.30v1.90h-4.30zM526.05 1097.50h4.30v1.90h-4.30zM526.05 1100.95h4.30v1.90h-4.30zM526.05 1104.40h4.30v1.90h-4.30zM526.05 1107.85h4.30v1.90h-4.30zM526.05 1111.30h4.30v1.90h-4.30zM526.05 1114.75h4.30v1.90h-4.30zM526.05 1118.20h4.30v0.50h-4.30z" fill="#fbfbfb"/>
<path d="M522.30 1048.70h11.80V1119.20H530.35V1052.40H526.05V1119.20H522.30z" fill="#000"/>
<rect x="541.20" y="1048.20" width="3.40" height="11.33" fill="#000" />
<path d="M539.80 1047.40h6.2v2.6q0 1.3 -1.3 1.3h-3.6q-1.3 0 -1.3 -1.3z" fill="#000"/>
<rect x="540.25" y="1061.73" width="5.30" height="56.97" fill="#000" />
<path d="M540.90 1062.73h4.00v2.60h-4.00zM540.90 1067.38h4.00v2.60h-4.00zM540.90 1072.03h4.00v2.60h-4.00zM540.90 1076.68h4.00v2.60h-4.00zM540.90 1081.33h4.00v2.60h-4.00zM540.90 1085.98h4.00v2.60h-4.00zM540.90 1090.63h4.00v2.60h-4.00zM540.90 1095.28h4.00v2.60h-4.00zM540.90 1099.93h4.00v2.60h-4.00zM540.90 1104.58h4.00v2.60h-4.00zM540.90 1109.23h4.00v2.60h-4.00zM540.90 1113.88h4.00v2.60h-4.00zM540.90 1118.53h4.00v0.17h-4.00z" fill="#fdfdfd"/>
<path d="M537.00 1058.53h11.80V1119.20H545.05V1062.23H540.75V1119.20H537.00z" fill="#000"/>
<rect x="555.90" y="1024.61" width="3.40" height="16.05" fill="#000" />
<path d="M554.50 1023.81h6.2v2.6q0 1.3 -1.3 1.3h-3.6q-1.3 0 -1.3 -1.3z" fill="#000"/>
<rect x="551.70" y="1039.66" width="11.80" height="79.04" fill="#000" />
<rect x="570.60" y="1067.86" width="3.40" height="11.72" fill="#000" />
<path d="M569.20 1067.06h6.2v2.6q0 1.3 -1.3 1.3h-3.6q-1.3 0 -1.3 -1.3z" fill="#000"/>
<rect x="569.65" y="1081.79" width="5.30" height="36.91" fill="#000" />
<rect x="569.95" y="1082.29" width="4.70" height="36.41" fill="#a4a3a8" />
<path d="M566.40 1078.59h11.80V1119.20H574.65V1082.29H569.95V1119.20H566.40z" fill="#000"/>
<rect x="585.30" y="1083.20" width="3.40" height="10.54" fill="#000" />
<path d="M583.90 1082.40h6.2v2.6q0 1.3 -1.3 1.3h-3.6q-1.3 0 -1.3 -1.3z" fill="#000"/>
<rect x="584.35" y="1095.95" width="5.30" height="22.75" fill="#000" />
<path d="M584.95 1096.65L589.05 1100.75M584.95 1102.50L589.05 1106.60M584.95 1108.35L589.05 1112.45M584.95 1114.20L589.05 1118.30" stroke="#fff" stroke-width="1.9" fill="none"/>
<path d="M581.10 1092.75h11.80V1119.20H589.15V1096.45H584.85V1119.20H581.10z" fill="#000"/>
<rect x="600.00" y="1043.09" width="3.40" height="16.44" fill="#000" />
<path d="M598.60 1042.29h6.2v2.6q0 1.3 -1.3 1.3h-3.6q-1.3 0 -1.3 -1.3z" fill="#000"/>
<rect x="599.05" y="1061.73" width="5.30" height="56.97" fill="#000" />
<rect x="599.55" y="1062.23" width="4.30" height="56.47" fill="#9c9c9c" />
<clipPath id="c5995_10622"><rect x="599.55" y="1062.23" width="4.30" height="56.47"/></clipPath>
<path d="M598.55 1057.73L604.85 1064.93M598.55 1063.03L604.85 1070.23M598.55 1068.33L604.85 1075.53M598.55 1073.63L604.85 1080.83M598.55 1078.93L604.85 1086.13M598.55 1084.23L604.85 1091.43M598.55 1089.53L604.85 1096.73M598.55 1094.83L604.85 1102.03M598.55 1100.13L604.85 1107.33M598.55 1105.43L604.85 1112.63M598.55 1110.73L604.85 1117.93M598.55 1116.03L604.85 1123.23" stroke="#fbfbfb" stroke-width="2.1" fill="none" clip-path="url(#c5995_10622)"/>
<path d="M595.80 1058.53h11.80V1119.20H603.85V1062.23H599.55V1119.20H595.80z" fill="#000"/>
<rect x="638.30" y="1022.25" width="3.40" height="25.10" fill="#000" />
<path d="M636.90 1021.45h6.2v2.6q0 1.3 -1.3 1.3h-3.6q-1.3 0 -1.3 -1.3z" fill="#000"/>
<rect x="637.35" y="1049.54" width="5.30" height="69.16" fill="#000" />
<rect x="637.85" y="1050.04" width="4.30" height="68.66" fill="#8c8c8c" />
<path d="M637.85 1050.29h4.30v1.90h-4.30zM637.85 1053.74h4.30v1.90h-4.30zM637.85 1057.19h4.30v1.90h-4.30zM637.85 1060.64h4.30v1.90h-4.30zM637.85 1064.09h4.30v1.90h-4.30zM637.85 1067.54h4.30v1.90h-4.30zM637.85 1070.99h4.30v1.90h-4.30zM637.85 1074.44h4.30v1.90h-4.30zM637.85 1077.89h4.30v1.90h-4.30zM637.85 1081.34h4.30v1.90h-4.30zM637.85 1084.79h4.30v1.90h-4.30zM637.85 1088.24h4.30v1.90h-4.30zM637.85 1091.69h4.30v1.90h-4.30zM637.85 1095.14h4.30v1.90h-4.30zM637.85 1098.59h4.30v1.90h-4.30zM637.85 1102.04h4.30v1.90h-4.30zM637.85 1105.49h4.30v1.90h-4.30zM637.85 1108.94h4.30v1.90h-4.30zM637.85 1112.39h4.30v1.90h-4.30zM637.85 1115.84h4.30v1.90h-4.30z" fill="#fbfbfb"/>
<path d="M634.10 1046.34h11.80V1119.20H642.15V1050.04H637.85V1119.20H634.10z" fill="#000"/>
<rect x="653.00" y="848.04" width="3.40" height="49.08" fill="#000" />
<path d="M651.60 847.24h6.2v2.6q0 1.3 -1.3 1.3h-3.6q-1.3 0 -1.3 -1.3z" fill="#000"/>
<rect x="652.05" y="899.32" width="5.30" height="219.38" fill="#000" />
<path d="M652.70 900.32h4.00v2.60h-4.00zM652.70 904.97h4.00v2.60h-4.00zM652.70 909.62h4.00v2.60h-4.00zM652.70 914.27h4.00v2.60h-4.00zM652.70 918.92h4.00v2.60h-4.00zM652.70 923.57h4.00v2.60h-4.00zM652.70 928.22h4.00v2.60h-4.00zM652.70 932.87h4.00v2.60h-4.00zM652.70 937.52h4.00v2.60h-4.00zM652.70 942.17h4.00v2.60h-4.00zM652.70 946.82h4.00v2.60h-4.00zM652.70 951.47h4.00v2.60h-4.00zM652.70 956.12h4.00v2.60h-4.00zM652.70 960.77h4.00v2.60h-4.00zM652.70 965.42h4.00v2.60h-4.00zM652.70 970.07h4.00v2.60h-4.00zM652.70 974.72h4.00v2.60h-4.00zM652.70 979.37h4.00v2.60h-4.00zM652.70 984.02h4.00v2.60h-4.00zM652.70 988.67h4.00v2.60h-4.00zM652.70 993.32h4.00v2.60h-4.00zM652.70 997.97h4.00v2.60h-4.00zM652.70 1002.62h4.00v2.60h-4.00zM652.70 1007.27h4.00v2.60h-4.00zM652.70 1011.92h4.00v2.60h-4.00zM652.70 1016.57h4.00v2.60h-4.00zM652.70 1021.22h4.00v2.60h-4.00zM652.70 1025.87h4.00v2.60h-4.00zM652.70 1030.52h4.00v2.60h-4.00zM652.70 1035.17h4.00v2.60h-4.00zM652.70 1039.82h4.00v2.60h-4.00zM652.70 1044.47h4.00v2.60h-4.00zM652.70 1049.12h4.00v2.60h-4.00zM652.70 1053.77h4.00v2.60h-4.00zM652.70 1058.42h4.00v2.60h-4.00zM652.70 1063.07h4.00v2.60h-4.00zM652.70 1067.72h4.00v2.60h-4.00zM652.70 1072.37h4.00v2.60h-4.00zM652.70 1077.02h4.00v2.60h-4.00zM652.70 1081.67h4.00v2.60h-4.00zM652.70 1086.32h4.00v2.60h-4.00zM652.70 1090.97h4.00v2.60h-4.00zM652.70 1095.62h4.00v2.60h-4.00zM652.70 1100.27h4.00v2.60h-4.00zM652.70 1104.92h4.00v2.60h-4.00zM652.70 1109.57h4.00v2.60h-4.00zM652.70 1114.22h4.00v2.60h-4.00z" fill="#fdfdfd"/>
<path d="M648.80 896.12h11.80V1119.20H656.85V899.82H652.55V1119.20H648.80z" fill="#000"/>
<rect x="667.70" y="1017.13" width="3.40" height="30.21" fill="#000" />
<path d="M666.30 1016.33h6.2v2.6q0 1.3 -1.3 1.3h-3.6q-1.3 0 -1.3 -1.3z" fill="#000"/>
<rect x="663.50" y="1046.34" width="11.80" height="72.36" fill="#000" />
<rect x="682.40" y="833.09" width="3.40" height="70.71" fill="#000" />
<path d="M681.00 832.29h6.2v2.6q0 1.3 -1.3 1.3h-3.6q-1.3 0 -1.3 -1.3z" fill="#000"/>
<rect x="681.45" y="906.01" width="5.30" height="212.69" fill="#000" />
<rect x="681.75" y="906.51" width="4.70" height="212.19" fill="#a4a3a8" />
<path d="M678.20 902.81h11.80V1119.20H686.45V906.51H681.75V1119.20H678.20z" fill="#000"/>
<rect x="697.10" y="1090.28" width="3.40" height="10.15" fill="#000" />
<path d="M695.70 1089.48h6.2v2.6q0 1.3 -1.3 1.3h-3.6q-1.3 0 -1.3 -1.3z" fill="#000"/>
<rect x="696.15" y="1102.63" width="5.30" height="16.07" fill="#000" />
<path d="M696.75 1103.33L700.85 1107.43M696.75 1109.18L700.85 1113.28M696.75 1115.03L700.85 1119.13" stroke="#fff" stroke-width="1.9" fill="none"/>
<path d="M692.90 1099.43h11.80V1119.20H700.95V1103.13H696.65V1119.20H692.90z" fill="#000"/>
<rect x="711.80" y="944.38" width="3.40" height="31.78" fill="#000" />
<path d="M710.40 943.58h6.2v2.6q0 1.3 -1.3 1.3h-3.6q-1.3 0 -1.3 -1.3z" fill="#000"/>
<rect x="710.85" y="978.36" width="5.30" height="140.34" fill="#000" />
<rect x="711.35" y="978.86" width="4.30" height="139.84" fill="#9c9c9c" />
<clipPath id="c7113_9788"><rect x="711.35" y="978.86" width="4.30" height="139.84"/></clipPath>
<path d="M710.35 974.36L716.65 981.56M710.35 979.66L716.65 986.86M710.35 984.96L716.65 992.16M710.35 990.26L716.65 997.46M710.35 995.56L716.65 1002.76M710.35 1000.86L716.65 1008.06M710.35 1006.16L716.65 1013.36M710.35 1011.46L716.65 1018.66M710.35 1016.76L716.65 1023.96M710.35 1022.06L716.65 1029.26M710.35 1027.36L716.65 1034.56M710.35 1032.66L716.65 1039.86M710.35 1037.96L716.65 1045.16M710.35 1043.26L716.65 1050.46M710.35 1048.56L716.65 1055.76M710.35 1053.86L716.65 1061.06M710.35 1059.16L716.65 1066.36M710.35 1064.46L716.65 1071.66M710.35 1069.76L716.65 1076.96M710.35 1075.06L716.65 1082.26M710.35 1080.36L716.65 1087.56M710.35 1085.66L716.65 1092.86M710.35 1090.96L716.65 1098.16M710.35 1096.26L716.65 1103.46M710.35 1101.56L716.65 1108.76M710.35 1106.86L716.65 1114.06M710.35 1112.16L716.65 1119.36M710.35 1117.46L716.65 1124.66" stroke="#fbfbfb" stroke-width="2.1" fill="none" clip-path="url(#c7113_9788)"/>
<path d="M707.60 975.16h11.80V1119.20H715.65V978.86H711.35V1119.20H707.60z" fill="#000"/>
<line x1="176.0" y1="1118.7" x2="726.5" y2="1118.7" stroke="#000" stroke-width="2.3" stroke-linecap="butt"/>
<path d="M319.5 1099.4V964.2H362.8V975" fill="none" stroke="#000" stroke-width="4.0" />
<path d="M333.3 1078V990.6H362.8V1002" fill="none" stroke="#000" stroke-width="4.0" />
<path d="M557.0 1015V1006.6H587.0V1074" fill="none" stroke="#000" stroke-width="4.0" />
<path d="M654.3 837.7V828.4H669.4V1011" fill="none" stroke="#000" stroke-width="4.0" />
<path d="M654.5 815.6V806.3H698.9V1083" fill="none" stroke="#000" stroke-width="4.0" />
<path d="M683.3 787V781.2H698.9V795.2" fill="none" stroke="#000" stroke-width="4.0" />
<text x="333.9" y="965.2" font-size="17" font-weight="bold" text-anchor="middle" >*</text>
<text x="347.3" y="965.2" font-size="17" font-weight="bold" text-anchor="middle" >*</text>
<text x="341.5" y="990.6" font-size="17" font-weight="bold" text-anchor="middle" >*</text>
<text x="355.3" y="990.6" font-size="17" font-weight="bold" text-anchor="middle" >*</text>
<text x="571.6" y="1008" font-size="17" font-weight="bold" text-anchor="middle" >*</text>
<text x="684.3" y="781" font-size="17" font-weight="bold" text-anchor="middle" >*</text>
<text x="697" y="781" font-size="17" font-weight="bold" text-anchor="middle" >*</text>
<text x="662.8" y="806" font-size="17" font-weight="bold" text-anchor="middle" >*</text>
<text x="676.5" y="806" font-size="17" font-weight="bold" text-anchor="middle" >*</text>
<text x="690.3" y="806" font-size="17" font-weight="bold" text-anchor="middle" >*</text>
<text x="661.4" y="829" font-size="17" font-weight="bold" text-anchor="middle" >*</text>
<rect x="197.50" y="816.60" width="12.00" height="22.00" fill="#000" />
<rect x="200.90" y="819.80" width="5.20" height="15.60" fill="#8c8c8c" />
<path d="M200.90 820.05h5.20v1.90h-5.20zM200.90 823.50h5.20v1.90h-5.20zM200.90 826.95h5.20v1.90h-5.20zM200.90 830.40h5.20v1.90h-5.20zM200.90 833.85h5.20v1.55h-5.20z" fill="#fbfbfb"/>
<path d="M197.50 816.60h12.00v22.00h-12.00zM200.90 819.80v15.60h5.20v-15.60z" fill="#000" fill-rule="evenodd"/>
<text x="216.4" y="836" font-size="24.7" >C-gWAT</text>
<rect x="197.50" y="849.40" width="12.00" height="22.00" fill="#000" />
<path d="M201.05 853.10h4.90v2.60h-4.90zM201.05 857.75h4.90v2.60h-4.90zM201.05 862.40h4.90v2.60h-4.90zM201.05 867.05h4.90v1.15h-4.90z" fill="#fdfdfd"/>
<path d="M197.50 849.40h12.00v22.00h-12.00zM200.90 852.60v15.60h5.20v-15.60z" fill="#000" fill-rule="evenodd"/>
<text x="216.6" y="867.5" font-size="24.6" >HF-gWAT</text>
<rect x="348.40" y="816.30" width="10.80" height="21.70" fill="#000" />
<text x="366.3" y="836" font-size="24.2" >C-iWAT</text>
<rect x="348.40" y="848.60" width="10.80" height="23.00" fill="#000" />
<rect x="351.00" y="851.80" width="5.60" height="16.60" fill="#a3a2a6" />
<text x="366.3" y="866.8" font-size="26" >HF-iWAT</text>
<rect x="506.10" y="820.10" width="10.50" height="20.00" fill="#000" />
<path d="M509.60 823.50L513.10 827.60M509.60 829.35L513.10 833.45M509.60 835.20L513.10 839.30" stroke="#fff" stroke-width="1.9" fill="none"/>
<path d="M506.10 820.10h10.50v20.00h-10.50zM509.50 823.30v13.60h3.70v-13.60z" fill="#000" fill-rule="evenodd"/>
<text x="524.8" y="838.7" font-size="24.5" >C-PAT</text>
<rect x="506.10" y="853.20" width="10.50" height="20.40" fill="#000" />
<rect x="509.50" y="856.40" width="3.70" height="14.00" fill="#9c9c9c" />
<clipPath id="c5095_8564"><rect x="509.50" y="856.40" width="3.70" height="14.00"/></clipPath>
<path d="M508.50 851.90L514.20 859.10M508.50 857.20L514.20 864.40M508.50 862.50L514.20 869.70M508.50 867.80L514.20 875.00" stroke="#fbfbfb" stroke-width="2.1" fill="none" clip-path="url(#c5095_8564)"/>
<path d="M506.10 853.20h10.50v20.40h-10.50zM509.50 856.40v14.00h3.70v-14.00z" fill="#000" fill-rule="evenodd"/>
<text x="523.5" y="871.5" font-size="24.2" >HF-PAT</text>
<text x="231.4" y="1137.5" font-size="16" text-anchor="end" transform="rotate(-45 231.4 1137.5)" fill="#1a1a1a" stroke-width="0.2"><tspan>0 to 5 x 10</tspan><tspan dy="-6.5" font-size="11" fill="#555" stroke="none">5</tspan></text>
<text x="343.2" y="1137.5" font-size="16" text-anchor="end" transform="rotate(-45 343.2 1137.5)" fill="#1a1a1a" stroke-width="0.2"><tspan>5 x 10</tspan><tspan dy="-6.5" font-size="11" fill="#555" stroke="none">5</tspan><tspan dy="6.5" dx="2"> to 1 x 10</tspan><tspan dy="-6.5" font-size="11" fill="#555" stroke="none">6</tspan></text>
<text x="455.0" y="1137.5" font-size="16" text-anchor="end" transform="rotate(-45 455.0 1137.5)" fill="#1a1a1a" stroke-width="0.2"><tspan>1 x 10</tspan><tspan dy="-6.5" font-size="11" fill="#555" stroke="none">6</tspan><tspan dy="6.5" dx="2"> to 5 x 10</tspan><tspan dy="-6.5" font-size="11" fill="#555" stroke="none">6</tspan></text>
<text x="566.8" y="1137.5" font-size="16" text-anchor="end" transform="rotate(-45 566.8 1137.5)" fill="#1a1a1a" stroke-width="0.2"><tspan>5 x 10</tspan><tspan dy="-6.5" font-size="11" fill="#555" stroke="none">6</tspan><tspan dy="6.5" dx="2"> to 1 x 10</tspan><tspan dy="-6.5" font-size="11" fill="#555" stroke="none">7</tspan></text>
<text x="678.6" y="1137.5" font-size="16" text-anchor="end" transform="rotate(-45 678.6 1137.5)" fill="#1a1a1a" stroke-width="0.2"><tspan>&gt;1 x 10</tspan><tspan dy="-6.5" font-size="11" fill="#555" stroke="none">7</tspan></text>
</g>
</svg></body></html>
